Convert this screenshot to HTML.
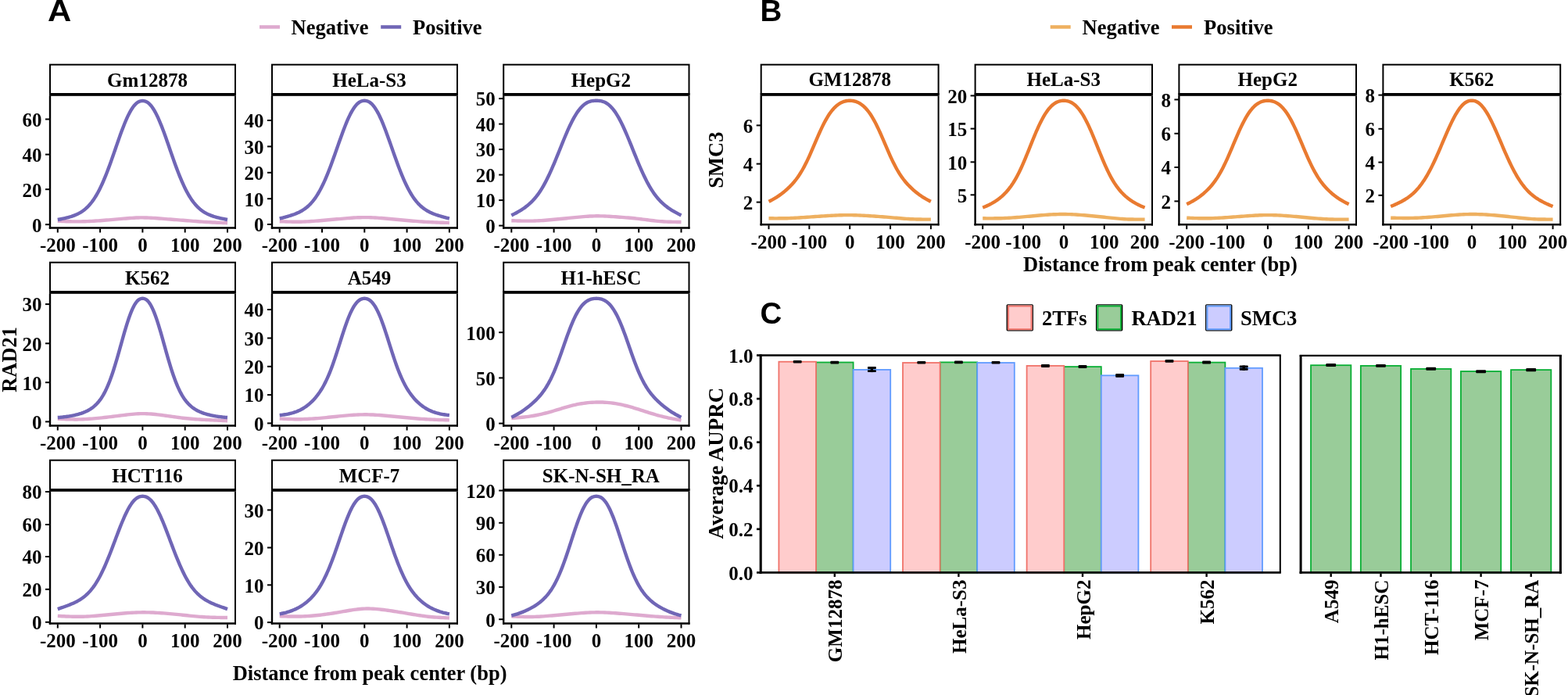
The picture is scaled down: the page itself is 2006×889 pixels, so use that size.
<!DOCTYPE html>
<html><head><meta charset="utf-8"><title>Figure</title>
<style>html,body{margin:0;padding:0;background:#fff;overflow:hidden;width:2006px;height:889px;} svg{display:block;}</style>
</head><body>
<svg width="2006" height="889" viewBox="0 0 2006 889">
<rect width="2006" height="889" fill="#fff"/>
<text x="0.00" y="0.00" font-size="38.5" text-anchor="start" style="font-family:'Liberation Sans',Arial,sans-serif;font-weight:bold" transform="translate(61.0,27.2) scale(1.09,1)">A</text>
<text x="972.50" y="27.20" font-size="38.5" text-anchor="start" style="font-family:'Liberation Sans',Arial,sans-serif;font-weight:bold" >B</text>
<text x="972.50" y="414.40" font-size="38.5" text-anchor="start" style="font-family:'Liberation Sans',Arial,sans-serif;font-weight:bold" >C</text>
<line x1="332.00" y1="34.50" x2="358.00" y2="34.50" stroke="#DEAACF" stroke-width="4.5" stroke-linecap="butt"/>
<line x1="487.20" y1="34.50" x2="513.20" y2="34.50" stroke="#7066B6" stroke-width="4.5" stroke-linecap="butt"/>
<text x="372.50" y="43.80" font-size="26.6" text-anchor="start" style="font-family:'Liberation Serif','Times New Roman',serif;font-weight:bold" >Negative</text>
<text x="528.00" y="43.80" font-size="26.6" text-anchor="start" style="font-family:'Liberation Serif','Times New Roman',serif;font-weight:bold" >Positive</text>
<line x1="1343.70" y1="34.50" x2="1369.70" y2="34.50" stroke="#EEB060" stroke-width="4.5" stroke-linecap="butt"/>
<line x1="1499.00" y1="34.50" x2="1525.00" y2="34.50" stroke="#E97A30" stroke-width="4.5" stroke-linecap="butt"/>
<text x="1384.60" y="43.80" font-size="26.6" text-anchor="start" style="font-family:'Liberation Serif','Times New Roman',serif;font-weight:bold" >Negative</text>
<text x="1540.00" y="43.80" font-size="26.6" text-anchor="start" style="font-family:'Liberation Serif','Times New Roman',serif;font-weight:bold" >Positive</text>
<rect x="64.00" y="82.70" width="237.00" height="38.00" fill="#fff" stroke="#000" stroke-width="2"/>
<rect x="63.00" y="119.00" width="239.00" height="3.80" fill="#000" stroke="none" stroke-width="0"/>
<text x="188.50" y="110.50" font-size="25" text-anchor="middle" style="font-family:'Liberation Serif','Times New Roman',serif;font-weight:bold" >Gm12878</text>
<path d="M73.80,282.80 L76.52,282.90 L79.23,283.00 L81.94,283.09 L84.66,283.18 L87.38,283.25 L90.09,283.31 L92.80,283.36 L95.52,283.40 L98.23,283.41 L100.95,283.40 L103.67,283.37 L106.38,283.31 L109.09,283.24 L111.81,283.14 L114.53,283.02 L117.24,282.89 L119.95,282.74 L122.67,282.57 L125.39,282.39 L128.10,282.20 L130.81,282.00 L133.53,281.78 L136.25,281.56 L138.96,281.33 L141.68,281.10 L144.39,280.86 L147.11,280.62 L149.82,280.38 L152.53,280.14 L155.25,279.90 L157.97,279.67 L160.68,279.44 L163.40,279.22 L166.11,279.03 L168.83,278.85 L171.54,278.69 L174.25,278.57 L176.97,278.47 L179.69,278.42 L182.40,278.40 L185.12,278.43 L187.83,278.49 L190.55,278.60 L193.26,278.73 L195.97,278.89 L198.69,279.07 L201.41,279.26 L204.12,279.47 L206.84,279.68 L209.55,279.90 L212.27,280.11 L214.98,280.33 L217.69,280.54 L220.41,280.74 L223.12,280.95 L225.84,281.16 L228.56,281.37 L231.27,281.58 L233.99,281.79 L236.70,282.00 L239.42,282.21 L242.13,282.43 L244.85,282.64 L247.56,282.86 L250.28,283.06 L252.99,283.27 L255.71,283.46 L258.42,283.65 L261.13,283.83 L263.85,284.00 L266.56,284.16 L269.28,284.30 L272.00,284.43 L274.71,284.56 L277.43,284.68 L280.14,284.79 L282.86,284.90 L285.57,285.00 L288.29,285.10 L291.00,285.20" fill="none" stroke="#DEAACF" stroke-width="4.4"/>
<path d="M73.80,281.02 L75.16,280.76 L76.52,280.49 L77.87,280.22 L79.23,279.94 L80.59,279.65 L81.94,279.35 L83.30,279.04 L84.66,278.72 L86.02,278.38 L87.38,278.03 L88.73,277.66 L90.09,277.26 L91.45,276.84 L92.80,276.39 L94.16,275.91 L95.52,275.40 L96.88,274.84 L98.23,274.25 L99.59,273.60 L100.95,272.91 L102.31,272.16 L103.67,271.35 L105.02,270.47 L106.38,269.52 L107.74,268.49 L109.09,267.39 L110.45,266.19 L111.81,264.91 L113.17,263.53 L114.53,262.04 L115.88,260.45 L117.24,258.75 L118.60,256.93 L119.95,254.99 L121.31,252.93 L122.67,250.75 L124.03,248.44 L125.39,246.00 L126.74,243.43 L128.10,240.73 L129.46,237.91 L130.81,234.96 L132.17,231.89 L133.53,228.69 L134.89,225.39 L136.25,221.98 L137.60,218.47 L138.96,214.87 L140.32,211.18 L141.68,207.43 L143.03,203.61 L144.39,199.75 L145.75,195.85 L147.11,191.93 L148.46,188.01 L149.82,184.10 L151.18,180.21 L152.53,176.36 L153.89,172.57 L155.25,168.85 L156.61,165.22 L157.97,161.69 L159.32,158.29 L160.68,155.02 L162.04,151.89 L163.40,148.94 L164.75,146.15 L166.11,143.56 L167.47,141.16 L168.83,138.97 L170.18,136.98 L171.54,135.22 L172.90,133.68 L174.25,132.36 L175.61,131.27 L176.97,130.40 L178.33,129.75 L179.69,129.31 L181.04,129.07 L182.40,129.00 L183.76,129.07 L185.12,129.31 L186.47,129.75 L187.83,130.40 L189.19,131.27 L190.55,132.36 L191.90,133.68 L193.26,135.22 L194.62,136.98 L195.97,138.97 L197.33,141.16 L198.69,143.56 L200.05,146.15 L201.41,148.94 L202.76,151.89 L204.12,155.02 L205.48,158.29 L206.84,161.69 L208.19,165.22 L209.55,168.85 L210.91,172.57 L212.27,176.36 L213.62,180.21 L214.98,184.10 L216.34,188.01 L217.69,191.93 L219.05,195.85 L220.41,199.75 L221.77,203.61 L223.12,207.43 L224.48,211.18 L225.84,214.87 L227.20,218.47 L228.56,221.98 L229.91,225.39 L231.27,228.69 L232.63,231.89 L233.99,234.96 L235.34,237.91 L236.70,240.73 L238.06,243.43 L239.42,246.00 L240.77,248.44 L242.13,250.75 L243.49,252.93 L244.85,254.99 L246.20,256.93 L247.56,258.75 L248.92,260.45 L250.28,262.04 L251.63,263.53 L252.99,264.91 L254.35,266.19 L255.71,267.39 L257.06,268.49 L258.42,269.52 L259.78,270.47 L261.13,271.35 L262.49,272.16 L263.85,272.91 L265.21,273.60 L266.56,274.25 L267.92,274.84 L269.28,275.40 L270.64,275.91 L272.00,276.39 L273.35,276.84 L274.71,277.26 L276.07,277.66 L277.43,278.03 L278.78,278.38 L280.14,278.72 L281.50,279.04 L282.86,279.35 L284.21,279.65 L285.57,279.94 L286.93,280.22 L288.29,280.49 L289.64,280.76 L291.00,281.02" fill="none" stroke="#7066B6" stroke-width="4.4"/>
<line x1="301.00" y1="122.90" x2="301.00" y2="292.70" stroke="#000" stroke-width="2" stroke-linecap="butt"/>
<line x1="64.00" y1="122.40" x2="64.00" y2="292.70" stroke="#000" stroke-width="2.4" stroke-linecap="butt"/>
<line x1="62.80" y1="291.50" x2="302.00" y2="291.50" stroke="#000" stroke-width="2.4" stroke-linecap="butt"/>
<line x1="73.80" y1="292.50" x2="73.80" y2="297.50" stroke="#000" stroke-width="2" stroke-linecap="butt"/>
<text x="73.80" y="321.50" font-size="25" text-anchor="middle" style="font-family:'Liberation Serif','Times New Roman',serif;font-weight:bold" >-200</text>
<line x1="128.10" y1="292.50" x2="128.10" y2="297.50" stroke="#000" stroke-width="2" stroke-linecap="butt"/>
<text x="128.10" y="321.50" font-size="25" text-anchor="middle" style="font-family:'Liberation Serif','Times New Roman',serif;font-weight:bold" >-100</text>
<line x1="182.40" y1="292.50" x2="182.40" y2="297.50" stroke="#000" stroke-width="2" stroke-linecap="butt"/>
<text x="182.40" y="321.50" font-size="25" text-anchor="middle" style="font-family:'Liberation Serif','Times New Roman',serif;font-weight:bold" >0</text>
<line x1="236.70" y1="292.50" x2="236.70" y2="297.50" stroke="#000" stroke-width="2" stroke-linecap="butt"/>
<text x="236.70" y="321.50" font-size="25" text-anchor="middle" style="font-family:'Liberation Serif','Times New Roman',serif;font-weight:bold" >100</text>
<line x1="291.00" y1="292.50" x2="291.00" y2="297.50" stroke="#000" stroke-width="2" stroke-linecap="butt"/>
<text x="291.00" y="321.50" font-size="25" text-anchor="middle" style="font-family:'Liberation Serif','Times New Roman',serif;font-weight:bold" >200</text>
<line x1="58.00" y1="287.20" x2="64.00" y2="287.20" stroke="#000" stroke-width="2" stroke-linecap="butt"/>
<text x="53.60" y="296.50" font-size="25" text-anchor="end" style="font-family:'Liberation Serif','Times New Roman',serif;font-weight:bold" >0</text>
<line x1="58.00" y1="242.20" x2="64.00" y2="242.20" stroke="#000" stroke-width="2" stroke-linecap="butt"/>
<text x="53.60" y="251.50" font-size="25" text-anchor="end" style="font-family:'Liberation Serif','Times New Roman',serif;font-weight:bold" >20</text>
<line x1="58.00" y1="197.60" x2="64.00" y2="197.60" stroke="#000" stroke-width="2" stroke-linecap="butt"/>
<text x="53.60" y="206.90" font-size="25" text-anchor="end" style="font-family:'Liberation Serif','Times New Roman',serif;font-weight:bold" >40</text>
<line x1="58.00" y1="152.50" x2="64.00" y2="152.50" stroke="#000" stroke-width="2" stroke-linecap="butt"/>
<text x="53.60" y="161.80" font-size="25" text-anchor="end" style="font-family:'Liberation Serif','Times New Roman',serif;font-weight:bold" >60</text>
<rect x="348.00" y="82.70" width="237.00" height="38.00" fill="#fff" stroke="#000" stroke-width="2"/>
<rect x="347.00" y="119.00" width="239.00" height="3.80" fill="#000" stroke="none" stroke-width="0"/>
<text x="472.50" y="110.50" font-size="25" text-anchor="middle" style="font-family:'Liberation Serif','Times New Roman',serif;font-weight:bold" >HeLa-S3</text>
<path d="M357.70,283.20 L360.42,283.30 L363.13,283.40 L365.85,283.50 L368.56,283.58 L371.27,283.65 L373.99,283.71 L376.70,283.74 L379.42,283.75 L382.13,283.74 L384.85,283.70 L387.56,283.63 L390.28,283.53 L393.00,283.40 L395.71,283.25 L398.43,283.07 L401.14,282.88 L403.86,282.68 L406.57,282.46 L409.29,282.23 L412.00,282.00 L414.72,281.76 L417.43,281.52 L420.14,281.28 L422.86,281.04 L425.57,280.80 L428.29,280.55 L431.00,280.31 L433.72,280.07 L436.44,279.83 L439.15,279.60 L441.87,279.37 L444.58,279.15 L447.30,278.94 L450.01,278.75 L452.73,278.57 L455.44,278.42 L458.16,278.29 L460.87,278.19 L463.59,278.13 L466.30,278.10 L469.01,278.11 L471.73,278.16 L474.44,278.24 L477.16,278.36 L479.88,278.50 L482.59,278.66 L485.31,278.85 L488.02,279.05 L490.74,279.27 L493.45,279.50 L496.17,279.74 L498.88,279.98 L501.60,280.23 L504.31,280.48 L507.03,280.74 L509.74,280.99 L512.46,281.25 L515.17,281.50 L517.88,281.75 L520.60,282.00 L523.32,282.24 L526.03,282.47 L528.75,282.70 L531.46,282.91 L534.17,283.12 L536.89,283.32 L539.61,283.51 L542.32,283.68 L545.03,283.85 L547.75,284.00 L550.47,284.14 L553.18,284.26 L555.89,284.38 L558.61,284.49 L561.33,284.58 L564.04,284.68 L566.75,284.76 L569.47,284.84 L572.19,284.92 L574.90,285.00" fill="none" stroke="#DEAACF" stroke-width="4.4"/>
<path d="M357.70,279.59 L359.06,279.24 L360.42,278.88 L361.77,278.53 L363.13,278.17 L364.49,277.80 L365.85,277.43 L367.20,277.05 L368.56,276.66 L369.92,276.26 L371.27,275.84 L372.63,275.41 L373.99,274.96 L375.35,274.48 L376.70,273.99 L378.06,273.46 L379.42,272.90 L380.78,272.31 L382.13,271.69 L383.49,271.01 L384.85,270.29 L386.21,269.52 L387.56,268.69 L388.92,267.80 L390.28,266.85 L391.64,265.82 L393.00,264.71 L394.35,263.52 L395.71,262.24 L397.07,260.87 L398.43,259.40 L399.78,257.82 L401.14,256.14 L402.50,254.34 L403.86,252.43 L405.21,250.39 L406.57,248.23 L407.93,245.94 L409.29,243.53 L410.64,240.99 L412.00,238.32 L413.36,235.53 L414.72,232.60 L416.07,229.56 L417.43,226.40 L418.79,223.13 L420.14,219.75 L421.50,216.27 L422.86,212.70 L424.22,209.05 L425.57,205.33 L426.93,201.55 L428.29,197.73 L429.65,193.88 L431.00,190.00 L432.36,186.13 L433.72,182.26 L435.08,178.43 L436.44,174.64 L437.79,170.91 L439.15,167.25 L440.51,163.69 L441.87,160.24 L443.22,156.91 L444.58,153.72 L445.94,150.69 L447.30,147.82 L448.65,145.12 L450.01,142.61 L451.37,140.30 L452.73,138.20 L454.08,136.30 L455.44,134.62 L456.80,133.16 L458.16,131.92 L459.51,130.89 L460.87,130.09 L462.23,129.48 L463.59,129.08 L464.94,128.86 L466.30,128.80 L467.66,128.86 L469.01,129.08 L470.37,129.48 L471.73,130.09 L473.09,130.89 L474.44,131.92 L475.80,133.16 L477.16,134.62 L478.52,136.30 L479.88,138.20 L481.23,140.30 L482.59,142.61 L483.95,145.12 L485.31,147.82 L486.66,150.69 L488.02,153.72 L489.38,156.91 L490.74,160.24 L492.09,163.69 L493.45,167.25 L494.81,170.91 L496.17,174.64 L497.52,178.43 L498.88,182.26 L500.24,186.13 L501.60,190.00 L502.95,193.88 L504.31,197.73 L505.67,201.55 L507.03,205.33 L508.38,209.05 L509.74,212.70 L511.10,216.27 L512.46,219.75 L513.81,223.13 L515.17,226.40 L516.53,229.56 L517.88,232.60 L519.24,235.53 L520.60,238.32 L521.96,240.99 L523.32,243.53 L524.67,245.94 L526.03,248.23 L527.39,250.39 L528.75,252.43 L530.10,254.34 L531.46,256.14 L532.82,257.82 L534.17,259.40 L535.53,260.87 L536.89,262.24 L538.25,263.52 L539.61,264.71 L540.96,265.82 L542.32,266.85 L543.68,267.80 L545.03,268.69 L546.39,269.52 L547.75,270.29 L549.11,271.01 L550.47,271.69 L551.82,272.31 L553.18,272.90 L554.54,273.46 L555.89,273.99 L557.25,274.48 L558.61,274.96 L559.97,275.41 L561.33,275.84 L562.68,276.26 L564.04,276.66 L565.40,277.05 L566.75,277.43 L568.11,277.80 L569.47,278.17 L570.83,278.53 L572.19,278.88 L573.54,279.24 L574.90,279.59" fill="none" stroke="#7066B6" stroke-width="4.4"/>
<line x1="585.00" y1="122.90" x2="585.00" y2="292.70" stroke="#000" stroke-width="2" stroke-linecap="butt"/>
<line x1="348.00" y1="122.40" x2="348.00" y2="292.70" stroke="#000" stroke-width="2.4" stroke-linecap="butt"/>
<line x1="346.80" y1="291.50" x2="586.00" y2="291.50" stroke="#000" stroke-width="2.4" stroke-linecap="butt"/>
<line x1="357.70" y1="292.50" x2="357.70" y2="297.50" stroke="#000" stroke-width="2" stroke-linecap="butt"/>
<text x="357.70" y="321.50" font-size="25" text-anchor="middle" style="font-family:'Liberation Serif','Times New Roman',serif;font-weight:bold" >-200</text>
<line x1="412.00" y1="292.50" x2="412.00" y2="297.50" stroke="#000" stroke-width="2" stroke-linecap="butt"/>
<text x="412.00" y="321.50" font-size="25" text-anchor="middle" style="font-family:'Liberation Serif','Times New Roman',serif;font-weight:bold" >-100</text>
<line x1="466.30" y1="292.50" x2="466.30" y2="297.50" stroke="#000" stroke-width="2" stroke-linecap="butt"/>
<text x="466.30" y="321.50" font-size="25" text-anchor="middle" style="font-family:'Liberation Serif','Times New Roman',serif;font-weight:bold" >0</text>
<line x1="520.60" y1="292.50" x2="520.60" y2="297.50" stroke="#000" stroke-width="2" stroke-linecap="butt"/>
<text x="520.60" y="321.50" font-size="25" text-anchor="middle" style="font-family:'Liberation Serif','Times New Roman',serif;font-weight:bold" >100</text>
<line x1="574.90" y1="292.50" x2="574.90" y2="297.50" stroke="#000" stroke-width="2" stroke-linecap="butt"/>
<text x="574.90" y="321.50" font-size="25" text-anchor="middle" style="font-family:'Liberation Serif','Times New Roman',serif;font-weight:bold" >200</text>
<line x1="342.00" y1="287.00" x2="348.00" y2="287.00" stroke="#000" stroke-width="2" stroke-linecap="butt"/>
<text x="337.60" y="296.30" font-size="25" text-anchor="end" style="font-family:'Liberation Serif','Times New Roman',serif;font-weight:bold" >0</text>
<line x1="342.00" y1="254.20" x2="348.00" y2="254.20" stroke="#000" stroke-width="2" stroke-linecap="butt"/>
<text x="337.60" y="263.50" font-size="25" text-anchor="end" style="font-family:'Liberation Serif','Times New Roman',serif;font-weight:bold" >10</text>
<line x1="342.00" y1="220.80" x2="348.00" y2="220.80" stroke="#000" stroke-width="2" stroke-linecap="butt"/>
<text x="337.60" y="230.10" font-size="25" text-anchor="end" style="font-family:'Liberation Serif','Times New Roman',serif;font-weight:bold" >20</text>
<line x1="342.00" y1="187.40" x2="348.00" y2="187.40" stroke="#000" stroke-width="2" stroke-linecap="butt"/>
<text x="337.60" y="196.70" font-size="25" text-anchor="end" style="font-family:'Liberation Serif','Times New Roman',serif;font-weight:bold" >30</text>
<line x1="342.00" y1="154.00" x2="348.00" y2="154.00" stroke="#000" stroke-width="2" stroke-linecap="butt"/>
<text x="337.60" y="163.30" font-size="25" text-anchor="end" style="font-family:'Liberation Serif','Times New Roman',serif;font-weight:bold" >40</text>
<rect x="644.20" y="82.70" width="237.30" height="38.00" fill="#fff" stroke="#000" stroke-width="2"/>
<rect x="643.20" y="119.00" width="239.30" height="3.80" fill="#000" stroke="none" stroke-width="0"/>
<text x="768.85" y="110.50" font-size="25" text-anchor="middle" style="font-family:'Liberation Serif','Times New Roman',serif;font-weight:bold" >HepG2</text>
<path d="M654.30,282.20 L657.01,282.29 L659.73,282.38 L662.44,282.46 L665.16,282.54 L667.88,282.60 L670.59,282.64 L673.30,282.67 L676.02,282.67 L678.74,282.65 L681.45,282.60 L684.16,282.52 L686.88,282.41 L689.60,282.28 L692.31,282.12 L695.02,281.94 L697.74,281.74 L700.45,281.52 L703.17,281.29 L705.88,281.05 L708.60,280.80 L711.31,280.54 L714.03,280.28 L716.75,280.01 L719.46,279.74 L722.17,279.47 L724.89,279.19 L727.61,278.92 L730.32,278.64 L733.03,278.37 L735.75,278.10 L738.46,277.84 L741.18,277.58 L743.89,277.34 L746.61,277.11 L749.32,276.90 L752.04,276.72 L754.75,276.56 L757.47,276.44 L760.18,276.35 L762.90,276.30 L765.62,276.29 L768.33,276.33 L771.04,276.39 L773.76,276.49 L776.48,276.62 L779.19,276.77 L781.90,276.93 L784.62,277.11 L787.34,277.30 L790.05,277.50 L792.76,277.70 L795.48,277.90 L798.19,278.11 L800.91,278.33 L803.62,278.55 L806.34,278.79 L809.05,279.04 L811.77,279.31 L814.49,279.60 L817.20,279.90 L819.91,280.22 L822.63,280.56 L825.35,280.91 L828.06,281.27 L830.77,281.61 L833.49,281.95 L836.20,282.28 L838.92,282.58 L841.63,282.86 L844.35,283.10 L847.06,283.30 L849.78,283.47 L852.50,283.61 L855.21,283.72 L857.92,283.80 L860.64,283.86 L863.36,283.91 L866.07,283.95 L868.78,283.98 L871.50,284.00" fill="none" stroke="#DEAACF" stroke-width="4.4"/>
<path d="M654.30,275.47 L655.66,274.79 L657.01,274.11 L658.37,273.40 L659.73,272.69 L661.09,271.95 L662.44,271.20 L663.80,270.42 L665.16,269.61 L666.52,268.78 L667.88,267.92 L669.23,267.02 L670.59,266.09 L671.95,265.11 L673.30,264.09 L674.66,263.02 L676.02,261.89 L677.38,260.71 L678.74,259.46 L680.09,258.14 L681.45,256.76 L682.81,255.29 L684.16,253.75 L685.52,252.12 L686.88,250.40 L688.24,248.59 L689.60,246.68 L690.95,244.68 L692.31,242.57 L693.67,240.37 L695.02,238.06 L696.38,235.65 L697.74,233.15 L699.10,230.54 L700.45,227.83 L701.81,225.03 L703.17,222.14 L704.53,219.17 L705.88,216.11 L707.24,212.99 L708.60,209.80 L709.96,206.55 L711.31,203.26 L712.67,199.93 L714.03,196.58 L715.39,193.20 L716.75,189.83 L718.10,186.45 L719.46,183.10 L720.82,179.77 L722.17,176.49 L723.53,173.25 L724.89,170.08 L726.25,166.98 L727.61,163.96 L728.96,161.04 L730.32,158.21 L731.68,155.50 L733.03,152.90 L734.39,150.43 L735.75,148.09 L737.11,145.88 L738.46,143.81 L739.82,141.88 L741.18,140.09 L742.54,138.45 L743.89,136.95 L745.25,135.60 L746.61,134.38 L747.97,133.30 L749.32,132.36 L750.68,131.54 L752.04,130.85 L753.40,130.27 L754.75,129.81 L756.11,129.44 L757.47,129.17 L758.83,128.99 L760.18,128.87 L761.54,128.81 L762.90,128.80 L764.26,128.81 L765.62,128.87 L766.97,128.99 L768.33,129.17 L769.69,129.44 L771.04,129.81 L772.40,130.27 L773.76,130.85 L775.12,131.54 L776.48,132.36 L777.83,133.30 L779.19,134.38 L780.55,135.60 L781.90,136.95 L783.26,138.45 L784.62,140.09 L785.98,141.88 L787.34,143.81 L788.69,145.88 L790.05,148.09 L791.41,150.43 L792.76,152.90 L794.12,155.50 L795.48,158.21 L796.84,161.04 L798.19,163.96 L799.55,166.98 L800.91,170.08 L802.27,173.25 L803.62,176.49 L804.98,179.77 L806.34,183.10 L807.70,186.45 L809.05,189.83 L810.41,193.20 L811.77,196.58 L813.13,199.93 L814.49,203.26 L815.84,206.55 L817.20,209.80 L818.56,212.99 L819.91,216.11 L821.27,219.17 L822.63,222.14 L823.99,225.03 L825.35,227.83 L826.70,230.54 L828.06,233.15 L829.42,235.65 L830.77,238.06 L832.13,240.37 L833.49,242.57 L834.85,244.68 L836.20,246.68 L837.56,248.59 L838.92,250.40 L840.28,252.12 L841.63,253.75 L842.99,255.29 L844.35,256.76 L845.71,258.14 L847.06,259.46 L848.42,260.71 L849.78,261.89 L851.14,263.02 L852.50,264.09 L853.85,265.11 L855.21,266.09 L856.57,267.02 L857.92,267.92 L859.28,268.78 L860.64,269.61 L862.00,270.42 L863.36,271.20 L864.71,271.95 L866.07,272.69 L867.43,273.40 L868.78,274.11 L870.14,274.79 L871.50,275.47" fill="none" stroke="#7066B6" stroke-width="4.4"/>
<line x1="881.50" y1="122.90" x2="881.50" y2="292.70" stroke="#000" stroke-width="2" stroke-linecap="butt"/>
<line x1="644.20" y1="122.40" x2="644.20" y2="292.70" stroke="#000" stroke-width="2.4" stroke-linecap="butt"/>
<line x1="643.00" y1="291.50" x2="882.50" y2="291.50" stroke="#000" stroke-width="2.4" stroke-linecap="butt"/>
<line x1="654.30" y1="292.50" x2="654.30" y2="297.50" stroke="#000" stroke-width="2" stroke-linecap="butt"/>
<text x="654.30" y="321.50" font-size="25" text-anchor="middle" style="font-family:'Liberation Serif','Times New Roman',serif;font-weight:bold" >-200</text>
<line x1="708.60" y1="292.50" x2="708.60" y2="297.50" stroke="#000" stroke-width="2" stroke-linecap="butt"/>
<text x="708.60" y="321.50" font-size="25" text-anchor="middle" style="font-family:'Liberation Serif','Times New Roman',serif;font-weight:bold" >-100</text>
<line x1="762.90" y1="292.50" x2="762.90" y2="297.50" stroke="#000" stroke-width="2" stroke-linecap="butt"/>
<text x="762.90" y="321.50" font-size="25" text-anchor="middle" style="font-family:'Liberation Serif','Times New Roman',serif;font-weight:bold" >0</text>
<line x1="817.20" y1="292.50" x2="817.20" y2="297.50" stroke="#000" stroke-width="2" stroke-linecap="butt"/>
<text x="817.20" y="321.50" font-size="25" text-anchor="middle" style="font-family:'Liberation Serif','Times New Roman',serif;font-weight:bold" >100</text>
<line x1="871.50" y1="292.50" x2="871.50" y2="297.50" stroke="#000" stroke-width="2" stroke-linecap="butt"/>
<text x="871.50" y="321.50" font-size="25" text-anchor="middle" style="font-family:'Liberation Serif','Times New Roman',serif;font-weight:bold" >200</text>
<line x1="638.20" y1="288.60" x2="644.20" y2="288.60" stroke="#000" stroke-width="2" stroke-linecap="butt"/>
<text x="633.80" y="297.90" font-size="25" text-anchor="end" style="font-family:'Liberation Serif','Times New Roman',serif;font-weight:bold" >0</text>
<line x1="638.20" y1="256.10" x2="644.20" y2="256.10" stroke="#000" stroke-width="2" stroke-linecap="butt"/>
<text x="633.80" y="265.40" font-size="25" text-anchor="end" style="font-family:'Liberation Serif','Times New Roman',serif;font-weight:bold" >10</text>
<line x1="638.20" y1="223.60" x2="644.20" y2="223.60" stroke="#000" stroke-width="2" stroke-linecap="butt"/>
<text x="633.80" y="232.90" font-size="25" text-anchor="end" style="font-family:'Liberation Serif','Times New Roman',serif;font-weight:bold" >20</text>
<line x1="638.20" y1="191.10" x2="644.20" y2="191.10" stroke="#000" stroke-width="2" stroke-linecap="butt"/>
<text x="633.80" y="200.40" font-size="25" text-anchor="end" style="font-family:'Liberation Serif','Times New Roman',serif;font-weight:bold" >30</text>
<line x1="638.20" y1="158.60" x2="644.20" y2="158.60" stroke="#000" stroke-width="2" stroke-linecap="butt"/>
<text x="633.80" y="167.90" font-size="25" text-anchor="end" style="font-family:'Liberation Serif','Times New Roman',serif;font-weight:bold" >40</text>
<line x1="638.20" y1="126.10" x2="644.20" y2="126.10" stroke="#000" stroke-width="2" stroke-linecap="butt"/>
<text x="633.80" y="135.40" font-size="25" text-anchor="end" style="font-family:'Liberation Serif','Times New Roman',serif;font-weight:bold" >50</text>
<rect x="64.00" y="335.70" width="237.00" height="38.00" fill="#fff" stroke="#000" stroke-width="2"/>
<rect x="63.00" y="372.00" width="239.00" height="3.80" fill="#000" stroke="none" stroke-width="0"/>
<text x="188.50" y="363.50" font-size="25" text-anchor="middle" style="font-family:'Liberation Serif','Times New Roman',serif;font-weight:bold" >K562</text>
<path d="M73.80,535.80 L76.52,535.91 L79.23,536.02 L81.94,536.13 L84.66,536.22 L87.38,536.30 L90.09,536.37 L92.80,536.42 L95.52,536.44 L98.23,536.43 L100.95,536.40 L103.67,536.33 L106.38,536.24 L109.09,536.11 L111.81,535.96 L114.53,535.79 L117.24,535.59 L119.95,535.37 L122.67,535.13 L125.39,534.87 L128.10,534.60 L130.81,534.32 L133.53,534.02 L136.25,533.72 L138.96,533.40 L141.68,533.08 L144.39,532.75 L147.11,532.42 L149.82,532.08 L152.53,531.74 L155.25,531.40 L157.97,531.06 L160.68,530.73 L163.40,530.41 L166.11,530.11 L168.83,529.83 L171.54,529.59 L174.25,529.39 L176.97,529.24 L179.69,529.14 L182.40,529.10 L185.12,529.12 L187.83,529.21 L190.55,529.35 L193.26,529.54 L195.97,529.78 L198.69,530.05 L201.41,530.35 L204.12,530.68 L206.84,531.03 L209.55,531.40 L212.27,531.78 L214.98,532.16 L217.69,532.54 L220.41,532.92 L223.12,533.30 L225.84,533.67 L228.56,534.03 L231.27,534.37 L233.99,534.70 L236.70,535.00 L239.42,535.28 L242.13,535.54 L244.85,535.77 L247.56,535.99 L250.28,536.19 L252.99,536.38 L255.71,536.55 L258.42,536.71 L261.13,536.86 L263.85,537.00 L266.56,537.14 L269.28,537.27 L272.00,537.39 L274.71,537.52 L277.43,537.64 L280.14,537.75 L282.86,537.87 L285.57,537.98 L288.29,538.09 L291.00,538.20" fill="none" stroke="#DEAACF" stroke-width="4.4"/>
<path d="M73.80,534.06 L75.16,533.96 L76.52,533.85 L77.87,533.73 L79.23,533.59 L80.59,533.45 L81.94,533.30 L83.30,533.14 L84.66,532.96 L86.02,532.78 L87.38,532.57 L88.73,532.36 L90.09,532.13 L91.45,531.88 L92.80,531.62 L94.16,531.34 L95.52,531.05 L96.88,530.73 L98.23,530.39 L99.59,530.03 L100.95,529.64 L102.31,529.23 L103.67,528.80 L105.02,528.33 L106.38,527.83 L107.74,527.29 L109.09,526.72 L110.45,526.10 L111.81,525.43 L113.17,524.72 L114.53,523.94 L115.88,523.10 L117.24,522.20 L118.60,521.21 L119.95,520.14 L121.31,518.97 L122.67,517.70 L124.03,516.32 L125.39,514.82 L126.74,513.18 L128.10,511.40 L129.46,509.47 L130.81,507.37 L132.17,505.10 L133.53,502.65 L134.89,500.01 L136.25,497.17 L137.60,494.14 L138.96,490.90 L140.32,487.47 L141.68,483.83 L143.03,480.00 L144.39,475.98 L145.75,471.79 L147.11,467.44 L148.46,462.94 L149.82,458.32 L151.18,453.59 L152.53,448.79 L153.89,443.94 L155.25,439.07 L156.61,434.22 L157.97,429.42 L159.32,424.69 L160.68,420.08 L162.04,415.62 L163.40,411.33 L164.75,407.26 L166.11,403.43 L167.47,399.86 L168.83,396.59 L170.18,393.62 L171.54,390.98 L172.90,388.67 L174.25,386.71 L175.61,385.09 L176.97,383.81 L178.33,382.86 L179.69,382.23 L181.04,381.89 L182.40,381.80 L183.76,381.89 L185.12,382.23 L186.47,382.86 L187.83,383.81 L189.19,385.09 L190.55,386.71 L191.90,388.67 L193.26,390.98 L194.62,393.62 L195.97,396.59 L197.33,399.86 L198.69,403.43 L200.05,407.26 L201.41,411.33 L202.76,415.62 L204.12,420.08 L205.48,424.69 L206.84,429.42 L208.19,434.22 L209.55,439.07 L210.91,443.94 L212.27,448.79 L213.62,453.59 L214.98,458.32 L216.34,462.94 L217.69,467.44 L219.05,471.79 L220.41,475.98 L221.77,480.00 L223.12,483.83 L224.48,487.47 L225.84,490.90 L227.20,494.14 L228.56,497.17 L229.91,500.01 L231.27,502.65 L232.63,505.10 L233.99,507.37 L235.34,509.47 L236.70,511.40 L238.06,513.18 L239.42,514.82 L240.77,516.32 L242.13,517.70 L243.49,518.97 L244.85,520.14 L246.20,521.21 L247.56,522.20 L248.92,523.10 L250.28,523.94 L251.63,524.72 L252.99,525.43 L254.35,526.10 L255.71,526.72 L257.06,527.29 L258.42,527.83 L259.78,528.33 L261.13,528.80 L262.49,529.23 L263.85,529.64 L265.21,530.03 L266.56,530.39 L267.92,530.73 L269.28,531.05 L270.64,531.34 L272.00,531.62 L273.35,531.88 L274.71,532.13 L276.07,532.36 L277.43,532.57 L278.78,532.78 L280.14,532.96 L281.50,533.14 L282.86,533.30 L284.21,533.45 L285.57,533.59 L286.93,533.73 L288.29,533.85 L289.64,533.96 L291.00,534.06" fill="none" stroke="#7066B6" stroke-width="4.4"/>
<line x1="301.00" y1="375.90" x2="301.00" y2="545.70" stroke="#000" stroke-width="2" stroke-linecap="butt"/>
<line x1="64.00" y1="375.40" x2="64.00" y2="545.70" stroke="#000" stroke-width="2.4" stroke-linecap="butt"/>
<line x1="62.80" y1="544.50" x2="302.00" y2="544.50" stroke="#000" stroke-width="2.4" stroke-linecap="butt"/>
<line x1="73.80" y1="545.50" x2="73.80" y2="550.50" stroke="#000" stroke-width="2" stroke-linecap="butt"/>
<text x="73.80" y="574.50" font-size="25" text-anchor="middle" style="font-family:'Liberation Serif','Times New Roman',serif;font-weight:bold" >-200</text>
<line x1="128.10" y1="545.50" x2="128.10" y2="550.50" stroke="#000" stroke-width="2" stroke-linecap="butt"/>
<text x="128.10" y="574.50" font-size="25" text-anchor="middle" style="font-family:'Liberation Serif','Times New Roman',serif;font-weight:bold" >-100</text>
<line x1="182.40" y1="545.50" x2="182.40" y2="550.50" stroke="#000" stroke-width="2" stroke-linecap="butt"/>
<text x="182.40" y="574.50" font-size="25" text-anchor="middle" style="font-family:'Liberation Serif','Times New Roman',serif;font-weight:bold" >0</text>
<line x1="236.70" y1="545.50" x2="236.70" y2="550.50" stroke="#000" stroke-width="2" stroke-linecap="butt"/>
<text x="236.70" y="574.50" font-size="25" text-anchor="middle" style="font-family:'Liberation Serif','Times New Roman',serif;font-weight:bold" >100</text>
<line x1="291.00" y1="545.50" x2="291.00" y2="550.50" stroke="#000" stroke-width="2" stroke-linecap="butt"/>
<text x="291.00" y="574.50" font-size="25" text-anchor="middle" style="font-family:'Liberation Serif','Times New Roman',serif;font-weight:bold" >200</text>
<line x1="58.00" y1="539.40" x2="64.00" y2="539.40" stroke="#000" stroke-width="2" stroke-linecap="butt"/>
<text x="53.60" y="548.70" font-size="25" text-anchor="end" style="font-family:'Liberation Serif','Times New Roman',serif;font-weight:bold" >0</text>
<line x1="58.00" y1="489.20" x2="64.00" y2="489.20" stroke="#000" stroke-width="2" stroke-linecap="butt"/>
<text x="53.60" y="498.50" font-size="25" text-anchor="end" style="font-family:'Liberation Serif','Times New Roman',serif;font-weight:bold" >10</text>
<line x1="58.00" y1="439.30" x2="64.00" y2="439.30" stroke="#000" stroke-width="2" stroke-linecap="butt"/>
<text x="53.60" y="448.60" font-size="25" text-anchor="end" style="font-family:'Liberation Serif','Times New Roman',serif;font-weight:bold" >20</text>
<line x1="58.00" y1="389.10" x2="64.00" y2="389.10" stroke="#000" stroke-width="2" stroke-linecap="butt"/>
<text x="53.60" y="398.40" font-size="25" text-anchor="end" style="font-family:'Liberation Serif','Times New Roman',serif;font-weight:bold" >30</text>
<rect x="348.00" y="335.70" width="237.00" height="38.00" fill="#fff" stroke="#000" stroke-width="2"/>
<rect x="347.00" y="372.00" width="239.00" height="3.80" fill="#000" stroke="none" stroke-width="0"/>
<text x="472.50" y="363.50" font-size="25" text-anchor="middle" style="font-family:'Liberation Serif','Times New Roman',serif;font-weight:bold" >A549</text>
<path d="M357.70,535.50 L360.42,535.62 L363.13,535.74 L365.85,535.85 L368.56,535.96 L371.27,536.05 L373.99,536.12 L376.70,536.18 L379.42,536.21 L382.13,536.22 L384.85,536.20 L387.56,536.15 L390.28,536.07 L393.00,535.96 L395.71,535.82 L398.43,535.67 L401.14,535.49 L403.86,535.29 L406.57,535.07 L409.29,534.84 L412.00,534.60 L414.72,534.35 L417.43,534.08 L420.14,533.81 L422.86,533.54 L425.57,533.26 L428.29,532.98 L431.00,532.71 L433.72,532.43 L436.44,532.16 L439.15,531.90 L441.87,531.65 L444.58,531.41 L447.30,531.18 L450.01,530.98 L452.73,530.79 L455.44,530.63 L458.16,530.50 L460.87,530.40 L463.59,530.33 L466.30,530.30 L469.01,530.31 L471.73,530.36 L474.44,530.44 L477.16,530.55 L479.88,530.69 L482.59,530.85 L485.31,531.04 L488.02,531.25 L490.74,531.47 L493.45,531.70 L496.17,531.94 L498.88,532.19 L501.60,532.45 L504.31,532.71 L507.03,532.98 L509.74,533.25 L512.46,533.51 L515.17,533.78 L517.88,534.04 L520.60,534.30 L523.32,534.55 L526.03,534.80 L528.75,535.03 L531.46,535.26 L534.17,535.48 L536.89,535.69 L539.61,535.89 L542.32,536.07 L545.03,536.24 L547.75,536.40 L550.47,536.54 L553.18,536.67 L555.89,536.79 L558.61,536.90 L561.33,536.99 L564.04,537.08 L566.75,537.17 L569.47,537.25 L572.19,537.32 L574.90,537.40" fill="none" stroke="#DEAACF" stroke-width="4.4"/>
<path d="M357.70,531.11 L359.06,530.98 L360.42,530.83 L361.77,530.66 L363.13,530.48 L364.49,530.28 L365.85,530.06 L367.20,529.82 L368.56,529.56 L369.92,529.27 L371.27,528.96 L372.63,528.62 L373.99,528.25 L375.35,527.85 L376.70,527.41 L378.06,526.95 L379.42,526.44 L380.78,525.89 L382.13,525.30 L383.49,524.67 L384.85,523.99 L386.21,523.27 L387.56,522.49 L388.92,521.66 L390.28,520.78 L391.64,519.84 L393.00,518.84 L394.35,517.78 L395.71,516.66 L397.07,515.47 L398.43,514.21 L399.78,512.87 L401.14,511.46 L402.50,509.97 L403.86,508.39 L405.21,506.73 L406.57,504.96 L407.93,503.10 L409.29,501.13 L410.64,499.04 L412.00,496.83 L413.36,494.48 L414.72,492.00 L416.07,489.38 L417.43,486.61 L418.79,483.68 L420.14,480.59 L421.50,477.35 L422.86,473.94 L424.22,470.39 L425.57,466.68 L426.93,462.84 L428.29,458.87 L429.65,454.79 L431.00,450.62 L432.36,446.39 L433.72,442.11 L435.08,437.81 L436.44,433.52 L437.79,429.27 L439.15,425.08 L440.51,420.98 L441.87,417.00 L443.22,413.17 L444.58,409.50 L445.94,406.02 L447.30,402.75 L448.65,399.69 L450.01,396.88 L451.37,394.30 L452.73,391.97 L454.08,389.90 L455.44,388.07 L456.80,386.50 L458.16,385.17 L459.51,384.08 L460.87,383.22 L462.23,382.57 L463.59,382.13 L464.94,381.88 L466.30,381.80 L467.66,381.88 L469.01,382.13 L470.37,382.57 L471.73,383.22 L473.09,384.08 L474.44,385.17 L475.80,386.50 L477.16,388.07 L478.52,389.90 L479.88,391.97 L481.23,394.30 L482.59,396.88 L483.95,399.69 L485.31,402.75 L486.66,406.02 L488.02,409.50 L489.38,413.17 L490.74,417.00 L492.09,420.98 L493.45,425.08 L494.81,429.27 L496.17,433.52 L497.52,437.81 L498.88,442.11 L500.24,446.39 L501.60,450.62 L502.95,454.79 L504.31,458.87 L505.67,462.84 L507.03,466.68 L508.38,470.39 L509.74,473.94 L511.10,477.35 L512.46,480.59 L513.81,483.68 L515.17,486.61 L516.53,489.38 L517.88,492.00 L519.24,494.48 L520.60,496.83 L521.96,499.04 L523.32,501.13 L524.67,503.10 L526.03,504.96 L527.39,506.73 L528.75,508.39 L530.10,509.97 L531.46,511.46 L532.82,512.87 L534.17,514.21 L535.53,515.47 L536.89,516.66 L538.25,517.78 L539.61,518.84 L540.96,519.84 L542.32,520.78 L543.68,521.66 L545.03,522.49 L546.39,523.27 L547.75,523.99 L549.11,524.67 L550.47,525.30 L551.82,525.89 L553.18,526.44 L554.54,526.95 L555.89,527.41 L557.25,527.85 L558.61,528.25 L559.97,528.62 L561.33,528.96 L562.68,529.27 L564.04,529.56 L565.40,529.82 L566.75,530.06 L568.11,530.28 L569.47,530.48 L570.83,530.66 L572.19,530.83 L573.54,530.98 L574.90,531.11" fill="none" stroke="#7066B6" stroke-width="4.4"/>
<line x1="585.00" y1="375.90" x2="585.00" y2="545.70" stroke="#000" stroke-width="2" stroke-linecap="butt"/>
<line x1="348.00" y1="375.40" x2="348.00" y2="545.70" stroke="#000" stroke-width="2.4" stroke-linecap="butt"/>
<line x1="346.80" y1="544.50" x2="586.00" y2="544.50" stroke="#000" stroke-width="2.4" stroke-linecap="butt"/>
<line x1="357.70" y1="545.50" x2="357.70" y2="550.50" stroke="#000" stroke-width="2" stroke-linecap="butt"/>
<text x="357.70" y="574.50" font-size="25" text-anchor="middle" style="font-family:'Liberation Serif','Times New Roman',serif;font-weight:bold" >-200</text>
<line x1="412.00" y1="545.50" x2="412.00" y2="550.50" stroke="#000" stroke-width="2" stroke-linecap="butt"/>
<text x="412.00" y="574.50" font-size="25" text-anchor="middle" style="font-family:'Liberation Serif','Times New Roman',serif;font-weight:bold" >-100</text>
<line x1="466.30" y1="545.50" x2="466.30" y2="550.50" stroke="#000" stroke-width="2" stroke-linecap="butt"/>
<text x="466.30" y="574.50" font-size="25" text-anchor="middle" style="font-family:'Liberation Serif','Times New Roman',serif;font-weight:bold" >0</text>
<line x1="520.60" y1="545.50" x2="520.60" y2="550.50" stroke="#000" stroke-width="2" stroke-linecap="butt"/>
<text x="520.60" y="574.50" font-size="25" text-anchor="middle" style="font-family:'Liberation Serif','Times New Roman',serif;font-weight:bold" >100</text>
<line x1="574.90" y1="545.50" x2="574.90" y2="550.50" stroke="#000" stroke-width="2" stroke-linecap="butt"/>
<text x="574.90" y="574.50" font-size="25" text-anchor="middle" style="font-family:'Liberation Serif','Times New Roman',serif;font-weight:bold" >200</text>
<line x1="342.00" y1="541.40" x2="348.00" y2="541.40" stroke="#000" stroke-width="2" stroke-linecap="butt"/>
<text x="337.60" y="550.70" font-size="25" text-anchor="end" style="font-family:'Liberation Serif','Times New Roman',serif;font-weight:bold" >0</text>
<line x1="342.00" y1="505.10" x2="348.00" y2="505.10" stroke="#000" stroke-width="2" stroke-linecap="butt"/>
<text x="337.60" y="514.40" font-size="25" text-anchor="end" style="font-family:'Liberation Serif','Times New Roman',serif;font-weight:bold" >10</text>
<line x1="342.00" y1="468.80" x2="348.00" y2="468.80" stroke="#000" stroke-width="2" stroke-linecap="butt"/>
<text x="337.60" y="478.10" font-size="25" text-anchor="end" style="font-family:'Liberation Serif','Times New Roman',serif;font-weight:bold" >20</text>
<line x1="342.00" y1="432.50" x2="348.00" y2="432.50" stroke="#000" stroke-width="2" stroke-linecap="butt"/>
<text x="337.60" y="441.80" font-size="25" text-anchor="end" style="font-family:'Liberation Serif','Times New Roman',serif;font-weight:bold" >30</text>
<line x1="342.00" y1="396.00" x2="348.00" y2="396.00" stroke="#000" stroke-width="2" stroke-linecap="butt"/>
<text x="337.60" y="405.30" font-size="25" text-anchor="end" style="font-family:'Liberation Serif','Times New Roman',serif;font-weight:bold" >40</text>
<rect x="644.20" y="335.70" width="237.30" height="38.00" fill="#fff" stroke="#000" stroke-width="2"/>
<rect x="643.20" y="372.00" width="239.30" height="3.80" fill="#000" stroke="none" stroke-width="0"/>
<text x="768.85" y="363.50" font-size="25" text-anchor="middle" style="font-family:'Liberation Serif','Times New Roman',serif;font-weight:bold" >H1-hESC</text>
<path d="M654.30,535.00 L657.01,534.78 L659.73,534.55 L662.44,534.32 L665.16,534.06 L667.88,533.80 L670.59,533.50 L673.30,533.18 L676.02,532.83 L678.74,532.43 L681.45,532.00 L684.16,531.52 L686.88,530.99 L689.60,530.43 L692.31,529.82 L695.02,529.18 L697.74,528.50 L700.45,527.79 L703.17,527.05 L705.88,526.29 L708.60,525.50 L711.31,524.69 L714.03,523.87 L716.75,523.05 L719.46,522.23 L722.17,521.42 L724.89,520.62 L727.61,519.86 L730.32,519.13 L733.03,518.44 L735.75,517.80 L738.46,517.22 L741.18,516.69 L743.89,516.23 L746.61,515.82 L749.32,515.46 L752.04,515.16 L754.75,514.92 L757.47,514.73 L760.18,514.59 L762.90,514.50 L765.62,514.47 L768.33,514.48 L771.04,514.56 L773.76,514.68 L776.48,514.86 L779.19,515.10 L781.90,515.39 L784.62,515.73 L787.34,516.14 L790.05,516.60 L792.76,517.12 L795.48,517.69 L798.19,518.32 L800.91,518.99 L803.62,519.70 L806.34,520.44 L809.05,521.22 L811.77,522.03 L814.49,522.85 L817.20,523.70 L819.91,524.56 L822.63,525.43 L825.35,526.30 L828.06,527.17 L830.77,528.03 L833.49,528.87 L836.20,529.70 L838.92,530.50 L841.63,531.27 L844.35,532.00 L847.06,532.69 L849.78,533.34 L852.50,533.96 L855.21,534.55 L857.92,535.12 L860.64,535.66 L863.36,536.18 L866.07,536.70 L868.78,537.20 L871.50,537.70" fill="none" stroke="#DEAACF" stroke-width="4.4"/>
<path d="M654.30,533.76 L655.66,533.12 L657.01,532.45 L658.37,531.76 L659.73,531.04 L661.09,530.29 L662.44,529.52 L663.80,528.72 L665.16,527.89 L666.52,527.04 L667.88,526.16 L669.23,525.24 L670.59,524.30 L671.95,523.33 L673.30,522.33 L674.66,521.30 L676.02,520.24 L677.38,519.15 L678.74,518.02 L680.09,516.86 L681.45,515.67 L682.81,514.43 L684.16,513.15 L685.52,511.83 L686.88,510.45 L688.24,509.02 L689.60,507.53 L690.95,505.97 L692.31,504.33 L693.67,502.61 L695.02,500.80 L696.38,498.90 L697.74,496.88 L699.10,494.74 L700.45,492.49 L701.81,490.10 L703.17,487.57 L704.53,484.91 L705.88,482.10 L707.24,479.15 L708.60,476.06 L709.96,472.84 L711.31,469.48 L712.67,466.00 L714.03,462.42 L715.39,458.74 L716.75,454.98 L718.10,451.16 L719.46,447.30 L720.82,443.42 L722.17,439.54 L723.53,435.68 L724.89,431.86 L726.25,428.10 L727.61,424.43 L728.96,420.86 L730.32,417.40 L731.68,414.08 L733.03,410.91 L734.39,407.89 L735.75,405.04 L737.11,402.36 L738.46,399.86 L739.82,397.54 L741.18,395.40 L742.54,393.45 L743.89,391.67 L745.25,390.07 L746.61,388.64 L747.97,387.37 L749.32,386.25 L750.68,385.29 L752.04,384.46 L753.40,383.77 L754.75,383.19 L756.11,382.73 L757.47,382.38 L758.83,382.11 L760.18,381.93 L761.54,381.83 L762.90,381.80 L764.26,381.83 L765.62,381.93 L766.97,382.11 L768.33,382.38 L769.69,382.73 L771.04,383.19 L772.40,383.77 L773.76,384.46 L775.12,385.29 L776.48,386.25 L777.83,387.37 L779.19,388.64 L780.55,390.07 L781.90,391.67 L783.26,393.45 L784.62,395.40 L785.98,397.54 L787.34,399.86 L788.69,402.36 L790.05,405.04 L791.41,407.89 L792.76,410.91 L794.12,414.08 L795.48,417.40 L796.84,420.86 L798.19,424.43 L799.55,428.10 L800.91,431.86 L802.27,435.68 L803.62,439.54 L804.98,443.42 L806.34,447.30 L807.70,451.16 L809.05,454.98 L810.41,458.74 L811.77,462.42 L813.13,466.00 L814.49,469.48 L815.84,472.84 L817.20,476.06 L818.56,479.15 L819.91,482.10 L821.27,484.91 L822.63,487.57 L823.99,490.10 L825.35,492.49 L826.70,494.74 L828.06,496.88 L829.42,498.90 L830.77,500.80 L832.13,502.61 L833.49,504.33 L834.85,505.97 L836.20,507.53 L837.56,509.02 L838.92,510.45 L840.28,511.83 L841.63,513.15 L842.99,514.43 L844.35,515.67 L845.71,516.86 L847.06,518.02 L848.42,519.15 L849.78,520.24 L851.14,521.30 L852.50,522.33 L853.85,523.33 L855.21,524.30 L856.57,525.24 L857.92,526.16 L859.28,527.04 L860.64,527.89 L862.00,528.72 L863.36,529.52 L864.71,530.29 L866.07,531.04 L867.43,531.76 L868.78,532.45 L870.14,533.12 L871.50,533.76" fill="none" stroke="#7066B6" stroke-width="4.4"/>
<line x1="881.50" y1="375.90" x2="881.50" y2="545.70" stroke="#000" stroke-width="2" stroke-linecap="butt"/>
<line x1="644.20" y1="375.40" x2="644.20" y2="545.70" stroke="#000" stroke-width="2.4" stroke-linecap="butt"/>
<line x1="643.00" y1="544.50" x2="882.50" y2="544.50" stroke="#000" stroke-width="2.4" stroke-linecap="butt"/>
<line x1="654.30" y1="545.50" x2="654.30" y2="550.50" stroke="#000" stroke-width="2" stroke-linecap="butt"/>
<text x="654.30" y="574.50" font-size="25" text-anchor="middle" style="font-family:'Liberation Serif','Times New Roman',serif;font-weight:bold" >-200</text>
<line x1="708.60" y1="545.50" x2="708.60" y2="550.50" stroke="#000" stroke-width="2" stroke-linecap="butt"/>
<text x="708.60" y="574.50" font-size="25" text-anchor="middle" style="font-family:'Liberation Serif','Times New Roman',serif;font-weight:bold" >-100</text>
<line x1="762.90" y1="545.50" x2="762.90" y2="550.50" stroke="#000" stroke-width="2" stroke-linecap="butt"/>
<text x="762.90" y="574.50" font-size="25" text-anchor="middle" style="font-family:'Liberation Serif','Times New Roman',serif;font-weight:bold" >0</text>
<line x1="817.20" y1="545.50" x2="817.20" y2="550.50" stroke="#000" stroke-width="2" stroke-linecap="butt"/>
<text x="817.20" y="574.50" font-size="25" text-anchor="middle" style="font-family:'Liberation Serif','Times New Roman',serif;font-weight:bold" >100</text>
<line x1="871.50" y1="545.50" x2="871.50" y2="550.50" stroke="#000" stroke-width="2" stroke-linecap="butt"/>
<text x="871.50" y="574.50" font-size="25" text-anchor="middle" style="font-family:'Liberation Serif','Times New Roman',serif;font-weight:bold" >200</text>
<line x1="638.20" y1="541.60" x2="644.20" y2="541.60" stroke="#000" stroke-width="2" stroke-linecap="butt"/>
<text x="633.80" y="550.90" font-size="25" text-anchor="end" style="font-family:'Liberation Serif','Times New Roman',serif;font-weight:bold" >0</text>
<line x1="638.20" y1="483.40" x2="644.20" y2="483.40" stroke="#000" stroke-width="2" stroke-linecap="butt"/>
<text x="633.80" y="492.70" font-size="25" text-anchor="end" style="font-family:'Liberation Serif','Times New Roman',serif;font-weight:bold" >50</text>
<line x1="638.20" y1="425.20" x2="644.20" y2="425.20" stroke="#000" stroke-width="2" stroke-linecap="butt"/>
<text x="633.80" y="434.50" font-size="25" text-anchor="end" style="font-family:'Liberation Serif','Times New Roman',serif;font-weight:bold" >100</text>
<rect x="64.00" y="588.70" width="237.00" height="38.00" fill="#fff" stroke="#000" stroke-width="2"/>
<rect x="63.00" y="625.00" width="239.00" height="3.80" fill="#000" stroke="none" stroke-width="0"/>
<text x="188.50" y="616.50" font-size="25" text-anchor="middle" style="font-family:'Liberation Serif','Times New Roman',serif;font-weight:bold" >HCT116</text>
<path d="M73.80,787.90 L76.52,788.04 L79.23,788.19 L81.94,788.32 L84.66,788.45 L87.38,788.56 L90.09,788.65 L92.80,788.73 L95.52,788.78 L98.23,788.80 L100.95,788.80 L103.67,788.76 L106.38,788.70 L109.09,788.60 L111.81,788.48 L114.53,788.33 L117.24,788.16 L119.95,787.97 L122.67,787.76 L125.39,787.54 L128.10,787.30 L130.81,787.05 L133.53,786.79 L136.25,786.53 L138.96,786.26 L141.68,785.99 L144.39,785.72 L147.11,785.45 L149.82,785.19 L152.53,784.94 L155.25,784.70 L157.97,784.47 L160.68,784.26 L163.40,784.06 L166.11,783.88 L168.83,783.73 L171.54,783.59 L174.25,783.48 L176.97,783.39 L179.69,783.33 L182.40,783.30 L185.12,783.30 L187.83,783.33 L190.55,783.38 L193.26,783.46 L195.97,783.57 L198.69,783.69 L201.41,783.84 L204.12,784.01 L206.84,784.20 L209.55,784.40 L212.27,784.62 L214.98,784.85 L217.69,785.09 L220.41,785.34 L223.12,785.61 L225.84,785.88 L228.56,786.15 L231.27,786.43 L233.99,786.72 L236.70,787.00 L239.42,787.28 L242.13,787.57 L244.85,787.84 L247.56,788.11 L250.28,788.37 L252.99,788.61 L255.71,788.84 L258.42,789.05 L261.13,789.24 L263.85,789.40 L266.56,789.54 L269.28,789.65 L272.00,789.74 L274.71,789.81 L277.43,789.87 L280.14,789.91 L282.86,789.94 L285.57,789.97 L288.29,789.98 L291.00,790.00" fill="none" stroke="#DEAACF" stroke-width="4.4"/>
<path d="M73.80,779.07 L75.16,778.60 L76.52,778.13 L77.87,777.66 L79.23,777.19 L80.59,776.71 L81.94,776.23 L83.30,775.74 L84.66,775.25 L86.02,774.74 L87.38,774.23 L88.73,773.70 L90.09,773.16 L91.45,772.59 L92.80,772.01 L94.16,771.41 L95.52,770.78 L96.88,770.11 L98.23,769.42 L99.59,768.69 L100.95,767.91 L102.31,767.09 L103.67,766.22 L105.02,765.30 L106.38,764.32 L107.74,763.27 L109.09,762.15 L110.45,760.96 L111.81,759.69 L113.17,758.34 L114.53,756.89 L115.88,755.35 L117.24,753.72 L118.60,751.98 L119.95,750.13 L121.31,748.18 L122.67,746.11 L124.03,743.93 L125.39,741.64 L126.74,739.23 L128.10,736.70 L129.46,734.05 L130.81,731.30 L132.17,728.43 L133.53,725.46 L134.89,722.38 L136.25,719.21 L137.60,715.95 L138.96,712.60 L140.32,709.19 L141.68,705.71 L143.03,702.18 L144.39,698.62 L145.75,695.02 L147.11,691.41 L148.46,687.81 L149.82,684.21 L151.18,680.65 L152.53,677.13 L153.89,673.66 L155.25,670.27 L156.61,666.97 L157.97,663.78 L159.32,660.69 L160.68,657.74 L162.04,654.94 L163.40,652.28 L164.75,649.80 L166.11,647.48 L167.47,645.36 L168.83,643.42 L170.18,641.67 L171.54,640.13 L172.90,638.79 L174.25,637.65 L175.61,636.71 L176.97,635.97 L178.33,635.42 L179.69,635.05 L181.04,634.86 L182.40,634.80 L183.76,634.86 L185.12,635.05 L186.47,635.42 L187.83,635.97 L189.19,636.71 L190.55,637.65 L191.90,638.79 L193.26,640.13 L194.62,641.67 L195.97,643.42 L197.33,645.36 L198.69,647.48 L200.05,649.80 L201.41,652.28 L202.76,654.94 L204.12,657.74 L205.48,660.69 L206.84,663.78 L208.19,666.97 L209.55,670.27 L210.91,673.66 L212.27,677.13 L213.62,680.65 L214.98,684.21 L216.34,687.81 L217.69,691.41 L219.05,695.02 L220.41,698.62 L221.77,702.18 L223.12,705.71 L224.48,709.19 L225.84,712.60 L227.20,715.95 L228.56,719.21 L229.91,722.38 L231.27,725.46 L232.63,728.43 L233.99,731.30 L235.34,734.05 L236.70,736.70 L238.06,739.23 L239.42,741.64 L240.77,743.93 L242.13,746.11 L243.49,748.18 L244.85,750.13 L246.20,751.98 L247.56,753.72 L248.92,755.35 L250.28,756.89 L251.63,758.34 L252.99,759.69 L254.35,760.96 L255.71,762.15 L257.06,763.27 L258.42,764.32 L259.78,765.30 L261.13,766.22 L262.49,767.09 L263.85,767.91 L265.21,768.69 L266.56,769.42 L267.92,770.11 L269.28,770.78 L270.64,771.41 L272.00,772.01 L273.35,772.59 L274.71,773.16 L276.07,773.70 L277.43,774.23 L278.78,774.74 L280.14,775.25 L281.50,775.74 L282.86,776.23 L284.21,776.71 L285.57,777.19 L286.93,777.66 L288.29,778.13 L289.64,778.60 L291.00,779.07" fill="none" stroke="#7066B6" stroke-width="4.4"/>
<line x1="301.00" y1="628.90" x2="301.00" y2="798.70" stroke="#000" stroke-width="2" stroke-linecap="butt"/>
<line x1="64.00" y1="628.40" x2="64.00" y2="798.70" stroke="#000" stroke-width="2.4" stroke-linecap="butt"/>
<line x1="62.80" y1="797.50" x2="302.00" y2="797.50" stroke="#000" stroke-width="2.4" stroke-linecap="butt"/>
<line x1="73.80" y1="798.50" x2="73.80" y2="803.50" stroke="#000" stroke-width="2" stroke-linecap="butt"/>
<text x="73.80" y="827.50" font-size="25" text-anchor="middle" style="font-family:'Liberation Serif','Times New Roman',serif;font-weight:bold" >-200</text>
<line x1="128.10" y1="798.50" x2="128.10" y2="803.50" stroke="#000" stroke-width="2" stroke-linecap="butt"/>
<text x="128.10" y="827.50" font-size="25" text-anchor="middle" style="font-family:'Liberation Serif','Times New Roman',serif;font-weight:bold" >-100</text>
<line x1="182.40" y1="798.50" x2="182.40" y2="803.50" stroke="#000" stroke-width="2" stroke-linecap="butt"/>
<text x="182.40" y="827.50" font-size="25" text-anchor="middle" style="font-family:'Liberation Serif','Times New Roman',serif;font-weight:bold" >0</text>
<line x1="236.70" y1="798.50" x2="236.70" y2="803.50" stroke="#000" stroke-width="2" stroke-linecap="butt"/>
<text x="236.70" y="827.50" font-size="25" text-anchor="middle" style="font-family:'Liberation Serif','Times New Roman',serif;font-weight:bold" >100</text>
<line x1="291.00" y1="798.50" x2="291.00" y2="803.50" stroke="#000" stroke-width="2" stroke-linecap="butt"/>
<text x="291.00" y="827.50" font-size="25" text-anchor="middle" style="font-family:'Liberation Serif','Times New Roman',serif;font-weight:bold" >200</text>
<line x1="58.00" y1="795.80" x2="64.00" y2="795.80" stroke="#000" stroke-width="2" stroke-linecap="butt"/>
<text x="53.60" y="805.10" font-size="25" text-anchor="end" style="font-family:'Liberation Serif','Times New Roman',serif;font-weight:bold" >0</text>
<line x1="58.00" y1="753.80" x2="64.00" y2="753.80" stroke="#000" stroke-width="2" stroke-linecap="butt"/>
<text x="53.60" y="763.10" font-size="25" text-anchor="end" style="font-family:'Liberation Serif','Times New Roman',serif;font-weight:bold" >20</text>
<line x1="58.00" y1="712.00" x2="64.00" y2="712.00" stroke="#000" stroke-width="2" stroke-linecap="butt"/>
<text x="53.60" y="721.30" font-size="25" text-anchor="end" style="font-family:'Liberation Serif','Times New Roman',serif;font-weight:bold" >40</text>
<line x1="58.00" y1="671.00" x2="64.00" y2="671.00" stroke="#000" stroke-width="2" stroke-linecap="butt"/>
<text x="53.60" y="680.30" font-size="25" text-anchor="end" style="font-family:'Liberation Serif','Times New Roman',serif;font-weight:bold" >60</text>
<line x1="58.00" y1="629.00" x2="64.00" y2="629.00" stroke="#000" stroke-width="2" stroke-linecap="butt"/>
<text x="53.60" y="638.30" font-size="25" text-anchor="end" style="font-family:'Liberation Serif','Times New Roman',serif;font-weight:bold" >80</text>
<rect x="348.00" y="588.70" width="237.00" height="38.00" fill="#fff" stroke="#000" stroke-width="2"/>
<rect x="347.00" y="625.00" width="239.00" height="3.80" fill="#000" stroke="none" stroke-width="0"/>
<text x="472.50" y="616.50" font-size="25" text-anchor="middle" style="font-family:'Liberation Serif','Times New Roman',serif;font-weight:bold" >MCF-7</text>
<path d="M357.70,788.10 L360.42,788.19 L363.13,788.28 L365.85,788.37 L368.56,788.44 L371.27,788.50 L373.99,788.54 L376.70,788.57 L379.42,788.57 L382.13,788.55 L384.85,788.50 L387.56,788.42 L390.28,788.30 L393.00,788.16 L395.71,787.99 L398.43,787.79 L401.14,787.56 L403.86,787.31 L406.57,787.03 L409.29,786.73 L412.00,786.40 L414.72,786.05 L417.43,785.68 L420.14,785.30 L422.86,784.89 L425.57,784.47 L428.29,784.04 L431.00,783.59 L433.72,783.14 L436.44,782.67 L439.15,782.20 L441.87,781.73 L444.58,781.25 L447.30,780.79 L450.01,780.35 L452.73,779.94 L455.44,779.57 L458.16,779.24 L460.87,778.96 L463.59,778.74 L466.30,778.60 L469.01,778.53 L471.73,778.53 L474.44,778.60 L477.16,778.73 L479.88,778.91 L482.59,779.14 L485.31,779.41 L488.02,779.71 L490.74,780.05 L493.45,780.40 L496.17,780.77 L498.88,781.15 L501.60,781.55 L504.31,781.96 L507.03,782.38 L509.74,782.81 L512.46,783.25 L515.17,783.69 L517.88,784.14 L520.60,784.60 L523.32,785.06 L526.03,785.52 L528.75,785.97 L531.46,786.42 L534.17,786.85 L536.89,787.27 L539.61,787.66 L542.32,788.04 L545.03,788.39 L547.75,788.70 L550.47,788.98 L553.18,789.23 L555.89,789.45 L558.61,789.65 L561.33,789.82 L564.04,789.98 L566.75,790.12 L569.47,790.25 L572.19,790.38 L574.90,790.50" fill="none" stroke="#DEAACF" stroke-width="4.4"/>
<path d="M357.70,785.30 L359.06,785.05 L360.42,784.78 L361.77,784.49 L363.13,784.19 L364.49,783.86 L365.85,783.51 L367.20,783.13 L368.56,782.73 L369.92,782.31 L371.27,781.85 L372.63,781.37 L373.99,780.86 L375.35,780.31 L376.70,779.74 L378.06,779.13 L379.42,778.48 L380.78,777.80 L382.13,777.08 L383.49,776.31 L384.85,775.51 L386.21,774.65 L387.56,773.76 L388.92,772.81 L390.28,771.81 L391.64,770.76 L393.00,769.64 L394.35,768.47 L395.71,767.23 L397.07,765.92 L398.43,764.54 L399.78,763.08 L401.14,761.54 L402.50,759.92 L403.86,758.20 L405.21,756.38 L406.57,754.46 L407.93,752.44 L409.29,750.30 L410.64,748.05 L412.00,745.68 L413.36,743.19 L414.72,740.57 L416.07,737.82 L417.43,734.94 L418.79,731.94 L420.14,728.81 L421.50,725.55 L422.86,722.18 L424.22,718.70 L425.57,715.11 L426.93,711.42 L428.29,707.65 L429.65,703.81 L431.00,699.92 L432.36,695.98 L433.72,692.02 L435.08,688.06 L436.44,684.11 L437.79,680.19 L439.15,676.33 L440.51,672.55 L441.87,668.86 L443.22,665.29 L444.58,661.85 L445.94,658.57 L447.30,655.46 L448.65,652.53 L450.01,649.80 L451.37,647.29 L452.73,645.00 L454.08,642.94 L455.44,641.12 L456.80,639.53 L458.16,638.19 L459.51,637.08 L460.87,636.20 L462.23,635.55 L463.59,635.11 L464.94,634.87 L466.30,634.80 L467.66,634.87 L469.01,635.11 L470.37,635.55 L471.73,636.20 L473.09,637.08 L474.44,638.19 L475.80,639.53 L477.16,641.12 L478.52,642.94 L479.88,645.00 L481.23,647.29 L482.59,649.80 L483.95,652.53 L485.31,655.46 L486.66,658.57 L488.02,661.85 L489.38,665.29 L490.74,668.86 L492.09,672.55 L493.45,676.33 L494.81,680.19 L496.17,684.11 L497.52,688.06 L498.88,692.02 L500.24,695.98 L501.60,699.92 L502.95,703.81 L504.31,707.65 L505.67,711.42 L507.03,715.11 L508.38,718.70 L509.74,722.18 L511.10,725.55 L512.46,728.81 L513.81,731.94 L515.17,734.94 L516.53,737.82 L517.88,740.57 L519.24,743.19 L520.60,745.68 L521.96,748.05 L523.32,750.30 L524.67,752.44 L526.03,754.46 L527.39,756.38 L528.75,758.20 L530.10,759.92 L531.46,761.54 L532.82,763.08 L534.17,764.54 L535.53,765.92 L536.89,767.23 L538.25,768.47 L539.61,769.64 L540.96,770.76 L542.32,771.81 L543.68,772.81 L545.03,773.76 L546.39,774.65 L547.75,775.51 L549.11,776.31 L550.47,777.08 L551.82,777.80 L553.18,778.48 L554.54,779.13 L555.89,779.74 L557.25,780.31 L558.61,780.86 L559.97,781.37 L561.33,781.85 L562.68,782.31 L564.04,782.73 L565.40,783.13 L566.75,783.51 L568.11,783.86 L569.47,784.19 L570.83,784.49 L572.19,784.78 L573.54,785.05 L574.90,785.30" fill="none" stroke="#7066B6" stroke-width="4.4"/>
<line x1="585.00" y1="628.90" x2="585.00" y2="798.70" stroke="#000" stroke-width="2" stroke-linecap="butt"/>
<line x1="348.00" y1="628.40" x2="348.00" y2="798.70" stroke="#000" stroke-width="2.4" stroke-linecap="butt"/>
<line x1="346.80" y1="797.50" x2="586.00" y2="797.50" stroke="#000" stroke-width="2.4" stroke-linecap="butt"/>
<line x1="357.70" y1="798.50" x2="357.70" y2="803.50" stroke="#000" stroke-width="2" stroke-linecap="butt"/>
<text x="357.70" y="827.50" font-size="25" text-anchor="middle" style="font-family:'Liberation Serif','Times New Roman',serif;font-weight:bold" >-200</text>
<line x1="412.00" y1="798.50" x2="412.00" y2="803.50" stroke="#000" stroke-width="2" stroke-linecap="butt"/>
<text x="412.00" y="827.50" font-size="25" text-anchor="middle" style="font-family:'Liberation Serif','Times New Roman',serif;font-weight:bold" >-100</text>
<line x1="466.30" y1="798.50" x2="466.30" y2="803.50" stroke="#000" stroke-width="2" stroke-linecap="butt"/>
<text x="466.30" y="827.50" font-size="25" text-anchor="middle" style="font-family:'Liberation Serif','Times New Roman',serif;font-weight:bold" >0</text>
<line x1="520.60" y1="798.50" x2="520.60" y2="803.50" stroke="#000" stroke-width="2" stroke-linecap="butt"/>
<text x="520.60" y="827.50" font-size="25" text-anchor="middle" style="font-family:'Liberation Serif','Times New Roman',serif;font-weight:bold" >100</text>
<line x1="574.90" y1="798.50" x2="574.90" y2="803.50" stroke="#000" stroke-width="2" stroke-linecap="butt"/>
<text x="574.90" y="827.50" font-size="25" text-anchor="middle" style="font-family:'Liberation Serif','Times New Roman',serif;font-weight:bold" >200</text>
<line x1="342.00" y1="796.10" x2="348.00" y2="796.10" stroke="#000" stroke-width="2" stroke-linecap="butt"/>
<text x="337.60" y="805.40" font-size="25" text-anchor="end" style="font-family:'Liberation Serif','Times New Roman',serif;font-weight:bold" >0</text>
<line x1="342.00" y1="748.30" x2="348.00" y2="748.30" stroke="#000" stroke-width="2" stroke-linecap="butt"/>
<text x="337.60" y="757.60" font-size="25" text-anchor="end" style="font-family:'Liberation Serif','Times New Roman',serif;font-weight:bold" >10</text>
<line x1="342.00" y1="700.50" x2="348.00" y2="700.50" stroke="#000" stroke-width="2" stroke-linecap="butt"/>
<text x="337.60" y="709.80" font-size="25" text-anchor="end" style="font-family:'Liberation Serif','Times New Roman',serif;font-weight:bold" >20</text>
<line x1="342.00" y1="652.40" x2="348.00" y2="652.40" stroke="#000" stroke-width="2" stroke-linecap="butt"/>
<text x="337.60" y="661.70" font-size="25" text-anchor="end" style="font-family:'Liberation Serif','Times New Roman',serif;font-weight:bold" >30</text>
<rect x="644.20" y="588.70" width="237.30" height="38.00" fill="#fff" stroke="#000" stroke-width="2"/>
<rect x="643.20" y="625.00" width="239.30" height="3.80" fill="#000" stroke="none" stroke-width="0"/>
<text x="768.85" y="616.50" font-size="25" text-anchor="middle" style="font-family:'Liberation Serif','Times New Roman',serif;font-weight:bold" >SK-N-SH_RA</text>
<path d="M654.30,788.40 L657.01,788.52 L659.73,788.63 L662.44,788.74 L665.16,788.84 L667.88,788.92 L670.59,788.99 L673.30,789.03 L676.02,789.05 L678.74,789.04 L681.45,789.00 L684.16,788.92 L686.88,788.82 L689.60,788.68 L692.31,788.52 L695.02,788.33 L697.74,788.13 L700.45,787.91 L703.17,787.68 L705.88,787.44 L708.60,787.20 L711.31,786.96 L714.03,786.71 L716.75,786.47 L719.46,786.22 L722.17,785.98 L724.89,785.74 L727.61,785.50 L730.32,785.26 L733.03,785.03 L735.75,784.80 L738.46,784.58 L741.18,784.36 L743.89,784.15 L746.61,783.96 L749.32,783.79 L752.04,783.63 L754.75,783.51 L757.47,783.41 L760.18,783.34 L762.90,783.30 L765.62,783.30 L768.33,783.34 L771.04,783.40 L773.76,783.50 L776.48,783.62 L779.19,783.76 L781.90,783.93 L784.62,784.11 L787.34,784.30 L790.05,784.50 L792.76,784.71 L795.48,784.93 L798.19,785.15 L800.91,785.38 L803.62,785.61 L806.34,785.84 L809.05,786.08 L811.77,786.32 L814.49,786.56 L817.20,786.80 L819.91,787.04 L822.63,787.28 L825.35,787.52 L828.06,787.75 L830.77,787.98 L833.49,788.20 L836.20,788.41 L838.92,788.62 L841.63,788.81 L844.35,789.00 L847.06,789.17 L849.78,789.34 L852.50,789.49 L855.21,789.64 L857.92,789.77 L860.64,789.91 L863.36,790.03 L866.07,790.16 L868.78,790.28 L871.50,790.40" fill="none" stroke="#DEAACF" stroke-width="4.4"/>
<path d="M654.30,787.46 L655.66,787.11 L657.01,786.74 L658.37,786.35 L659.73,785.95 L661.09,785.53 L662.44,785.09 L663.80,784.63 L665.16,784.15 L666.52,783.65 L667.88,783.14 L669.23,782.60 L670.59,782.04 L671.95,781.45 L673.30,780.85 L674.66,780.22 L676.02,779.56 L677.38,778.88 L678.74,778.17 L680.09,777.43 L681.45,776.66 L682.81,775.86 L684.16,775.02 L685.52,774.15 L686.88,773.23 L688.24,772.27 L689.60,771.26 L690.95,770.19 L692.31,769.07 L693.67,767.89 L695.02,766.64 L696.38,765.31 L697.74,763.90 L699.10,762.40 L700.45,760.81 L701.81,759.12 L703.17,757.31 L704.53,755.39 L705.88,753.35 L707.24,751.18 L708.60,748.87 L709.96,746.42 L711.31,743.82 L712.67,741.08 L714.03,738.18 L715.39,735.14 L716.75,731.95 L718.10,728.61 L719.46,725.13 L720.82,721.52 L722.17,717.79 L723.53,713.94 L724.89,710.00 L726.25,705.97 L727.61,701.88 L728.96,697.74 L730.32,693.57 L731.68,689.39 L733.03,685.23 L734.39,681.12 L735.75,677.06 L737.11,673.09 L738.46,669.23 L739.82,665.50 L741.18,661.92 L742.54,658.52 L743.89,655.31 L745.25,652.30 L746.61,649.52 L747.97,646.96 L749.32,644.66 L750.68,642.60 L752.04,640.79 L753.40,639.23 L754.75,637.93 L756.11,636.87 L757.47,636.05 L758.83,635.45 L760.18,635.06 L761.54,634.86 L762.90,634.80 L764.26,634.86 L765.62,635.06 L766.97,635.45 L768.33,636.05 L769.69,636.87 L771.04,637.93 L772.40,639.23 L773.76,640.79 L775.12,642.60 L776.48,644.66 L777.83,646.96 L779.19,649.52 L780.55,652.30 L781.90,655.31 L783.26,658.52 L784.62,661.92 L785.98,665.50 L787.34,669.23 L788.69,673.09 L790.05,677.06 L791.41,681.12 L792.76,685.23 L794.12,689.39 L795.48,693.57 L796.84,697.74 L798.19,701.88 L799.55,705.97 L800.91,710.00 L802.27,713.94 L803.62,717.79 L804.98,721.52 L806.34,725.13 L807.70,728.61 L809.05,731.95 L810.41,735.14 L811.77,738.18 L813.13,741.08 L814.49,743.82 L815.84,746.42 L817.20,748.87 L818.56,751.18 L819.91,753.35 L821.27,755.39 L822.63,757.31 L823.99,759.12 L825.35,760.81 L826.70,762.40 L828.06,763.90 L829.42,765.31 L830.77,766.64 L832.13,767.89 L833.49,769.07 L834.85,770.19 L836.20,771.26 L837.56,772.27 L838.92,773.23 L840.28,774.15 L841.63,775.02 L842.99,775.86 L844.35,776.66 L845.71,777.43 L847.06,778.17 L848.42,778.88 L849.78,779.56 L851.14,780.22 L852.50,780.85 L853.85,781.45 L855.21,782.04 L856.57,782.60 L857.92,783.14 L859.28,783.65 L860.64,784.15 L862.00,784.63 L863.36,785.09 L864.71,785.53 L866.07,785.95 L867.43,786.35 L868.78,786.74 L870.14,787.11 L871.50,787.46" fill="none" stroke="#7066B6" stroke-width="4.4"/>
<line x1="881.50" y1="628.90" x2="881.50" y2="798.70" stroke="#000" stroke-width="2" stroke-linecap="butt"/>
<line x1="644.20" y1="628.40" x2="644.20" y2="798.70" stroke="#000" stroke-width="2.4" stroke-linecap="butt"/>
<line x1="643.00" y1="797.50" x2="882.50" y2="797.50" stroke="#000" stroke-width="2.4" stroke-linecap="butt"/>
<line x1="654.30" y1="798.50" x2="654.30" y2="803.50" stroke="#000" stroke-width="2" stroke-linecap="butt"/>
<text x="654.30" y="827.50" font-size="25" text-anchor="middle" style="font-family:'Liberation Serif','Times New Roman',serif;font-weight:bold" >-200</text>
<line x1="708.60" y1="798.50" x2="708.60" y2="803.50" stroke="#000" stroke-width="2" stroke-linecap="butt"/>
<text x="708.60" y="827.50" font-size="25" text-anchor="middle" style="font-family:'Liberation Serif','Times New Roman',serif;font-weight:bold" >-100</text>
<line x1="762.90" y1="798.50" x2="762.90" y2="803.50" stroke="#000" stroke-width="2" stroke-linecap="butt"/>
<text x="762.90" y="827.50" font-size="25" text-anchor="middle" style="font-family:'Liberation Serif','Times New Roman',serif;font-weight:bold" >0</text>
<line x1="817.20" y1="798.50" x2="817.20" y2="803.50" stroke="#000" stroke-width="2" stroke-linecap="butt"/>
<text x="817.20" y="827.50" font-size="25" text-anchor="middle" style="font-family:'Liberation Serif','Times New Roman',serif;font-weight:bold" >100</text>
<line x1="871.50" y1="798.50" x2="871.50" y2="803.50" stroke="#000" stroke-width="2" stroke-linecap="butt"/>
<text x="871.50" y="827.50" font-size="25" text-anchor="middle" style="font-family:'Liberation Serif','Times New Roman',serif;font-weight:bold" >200</text>
<line x1="638.20" y1="792.20" x2="644.20" y2="792.20" stroke="#000" stroke-width="2" stroke-linecap="butt"/>
<text x="633.80" y="801.50" font-size="25" text-anchor="end" style="font-family:'Liberation Serif','Times New Roman',serif;font-weight:bold" >0</text>
<line x1="638.20" y1="750.90" x2="644.20" y2="750.90" stroke="#000" stroke-width="2" stroke-linecap="butt"/>
<text x="633.80" y="760.20" font-size="25" text-anchor="end" style="font-family:'Liberation Serif','Times New Roman',serif;font-weight:bold" >30</text>
<line x1="638.20" y1="709.80" x2="644.20" y2="709.80" stroke="#000" stroke-width="2" stroke-linecap="butt"/>
<text x="633.80" y="719.10" font-size="25" text-anchor="end" style="font-family:'Liberation Serif','Times New Roman',serif;font-weight:bold" >60</text>
<line x1="638.20" y1="668.80" x2="644.20" y2="668.80" stroke="#000" stroke-width="2" stroke-linecap="butt"/>
<text x="633.80" y="678.10" font-size="25" text-anchor="end" style="font-family:'Liberation Serif','Times New Roman',serif;font-weight:bold" >90</text>
<line x1="638.20" y1="627.50" x2="644.20" y2="627.50" stroke="#000" stroke-width="2" stroke-linecap="butt"/>
<text x="633.80" y="636.80" font-size="25" text-anchor="end" style="font-family:'Liberation Serif','Times New Roman',serif;font-weight:bold" >120</text>
<rect x="973.70" y="82.70" width="226.90" height="38.00" fill="#fff" stroke="#000" stroke-width="2"/>
<rect x="972.70" y="119.00" width="228.90" height="3.80" fill="#000" stroke="none" stroke-width="0"/>
<text x="1087.15" y="110.00" font-size="25" text-anchor="middle" style="font-family:'Liberation Serif','Times New Roman',serif;font-weight:bold" >GM12878</text>
<path d="M983.50,279.30 L986.09,279.31 L988.69,279.32 L991.28,279.33 L993.87,279.33 L996.46,279.32 L999.06,279.31 L1001.65,279.28 L1004.24,279.23 L1006.83,279.18 L1009.43,279.10 L1012.02,279.01 L1014.61,278.89 L1017.20,278.77 L1019.80,278.62 L1022.39,278.47 L1024.98,278.31 L1027.57,278.14 L1030.16,277.96 L1032.76,277.78 L1035.35,277.60 L1037.94,277.42 L1040.54,277.24 L1043.13,277.06 L1045.72,276.88 L1048.31,276.71 L1050.90,276.53 L1053.50,276.37 L1056.09,276.21 L1058.68,276.05 L1061.28,275.90 L1063.87,275.76 L1066.46,275.62 L1069.05,275.50 L1071.64,275.39 L1074.24,275.29 L1076.83,275.21 L1079.42,275.15 L1082.02,275.11 L1084.61,275.09 L1087.20,275.10 L1089.79,275.13 L1092.38,275.19 L1094.98,275.26 L1097.57,275.36 L1100.16,275.47 L1102.76,275.59 L1105.35,275.73 L1107.94,275.88 L1110.53,276.04 L1113.12,276.20 L1115.72,276.37 L1118.31,276.54 L1120.90,276.71 L1123.50,276.89 L1126.09,277.07 L1128.68,277.26 L1131.27,277.46 L1133.87,277.67 L1136.46,277.88 L1139.05,278.10 L1141.64,278.33 L1144.24,278.57 L1146.83,278.80 L1149.42,279.04 L1152.01,279.27 L1154.61,279.49 L1157.20,279.69 L1159.79,279.88 L1162.38,280.05 L1164.98,280.20 L1167.57,280.32 L1170.16,280.41 L1172.75,280.49 L1175.35,280.54 L1177.94,280.57 L1180.53,280.60 L1183.12,280.61 L1185.72,280.61 L1188.31,280.61 L1190.90,280.60" fill="none" stroke="#EEB060" stroke-width="4.4"/>
<path d="M983.50,257.84 L984.80,257.21 L986.09,256.55 L987.39,255.87 L988.69,255.16 L989.98,254.43 L991.28,253.66 L992.57,252.87 L993.87,252.05 L995.17,251.20 L996.46,250.32 L997.76,249.41 L999.06,248.47 L1000.35,247.50 L1001.65,246.49 L1002.94,245.45 L1004.24,244.38 L1005.54,243.27 L1006.83,242.12 L1008.13,240.92 L1009.43,239.69 L1010.72,238.41 L1012.02,237.08 L1013.31,235.69 L1014.61,234.24 L1015.91,232.73 L1017.20,231.15 L1018.50,229.50 L1019.80,227.77 L1021.09,225.95 L1022.39,224.04 L1023.68,222.05 L1024.98,219.95 L1026.28,217.76 L1027.57,215.47 L1028.87,213.09 L1030.16,210.60 L1031.46,208.03 L1032.76,205.36 L1034.05,202.62 L1035.35,199.80 L1036.65,196.91 L1037.94,193.97 L1039.24,190.99 L1040.54,187.98 L1041.83,184.95 L1043.13,181.92 L1044.42,178.89 L1045.72,175.89 L1047.02,172.93 L1048.31,170.01 L1049.61,167.16 L1050.90,164.37 L1052.20,161.67 L1053.50,159.05 L1054.79,156.54 L1056.09,154.12 L1057.39,151.82 L1058.68,149.63 L1059.98,147.56 L1061.28,145.60 L1062.57,143.76 L1063.87,142.04 L1065.16,140.44 L1066.46,138.96 L1067.76,137.59 L1069.05,136.34 L1070.35,135.19 L1071.64,134.15 L1072.94,133.22 L1074.24,132.38 L1075.53,131.64 L1076.83,130.99 L1078.13,130.43 L1079.42,129.96 L1080.72,129.56 L1082.02,129.25 L1083.31,129.00 L1084.61,128.83 L1085.90,128.73 L1087.20,128.70 L1088.50,128.73 L1089.79,128.83 L1091.09,129.00 L1092.38,129.25 L1093.68,129.56 L1094.98,129.96 L1096.27,130.43 L1097.57,130.99 L1098.87,131.64 L1100.16,132.38 L1101.46,133.22 L1102.76,134.15 L1104.05,135.19 L1105.35,136.34 L1106.64,137.59 L1107.94,138.96 L1109.24,140.44 L1110.53,142.04 L1111.83,143.76 L1113.12,145.60 L1114.42,147.56 L1115.72,149.63 L1117.01,151.82 L1118.31,154.12 L1119.61,156.54 L1120.90,159.05 L1122.20,161.67 L1123.50,164.37 L1124.79,167.16 L1126.09,170.01 L1127.38,172.93 L1128.68,175.89 L1129.98,178.89 L1131.27,181.92 L1132.57,184.95 L1133.87,187.98 L1135.16,190.99 L1136.46,193.97 L1137.75,196.91 L1139.05,199.80 L1140.35,202.62 L1141.64,205.36 L1142.94,208.03 L1144.24,210.60 L1145.53,213.09 L1146.83,215.47 L1148.12,217.76 L1149.42,219.95 L1150.72,222.05 L1152.01,224.04 L1153.31,225.95 L1154.61,227.77 L1155.90,229.50 L1157.20,231.15 L1158.49,232.73 L1159.79,234.24 L1161.09,235.69 L1162.38,237.08 L1163.68,238.41 L1164.98,239.69 L1166.27,240.92 L1167.57,242.12 L1168.86,243.27 L1170.16,244.38 L1171.46,245.45 L1172.75,246.49 L1174.05,247.50 L1175.35,248.47 L1176.64,249.41 L1177.94,250.32 L1179.23,251.20 L1180.53,252.05 L1181.83,252.87 L1183.12,253.66 L1184.42,254.43 L1185.72,255.16 L1187.01,255.87 L1188.31,256.55 L1189.60,257.21 L1190.90,257.84" fill="none" stroke="#E97A30" stroke-width="4.4"/>
<line x1="1200.60" y1="122.90" x2="1200.60" y2="288.40" stroke="#000" stroke-width="2" stroke-linecap="butt"/>
<line x1="973.70" y1="122.40" x2="973.70" y2="288.40" stroke="#000" stroke-width="2.4" stroke-linecap="butt"/>
<line x1="972.50" y1="287.20" x2="1201.60" y2="287.20" stroke="#000" stroke-width="2.4" stroke-linecap="butt"/>
<line x1="983.50" y1="288.20" x2="983.50" y2="293.20" stroke="#000" stroke-width="2" stroke-linecap="butt"/>
<text x="983.50" y="317.70" font-size="25" text-anchor="middle" style="font-family:'Liberation Serif','Times New Roman',serif;font-weight:bold" >-200</text>
<line x1="1035.35" y1="288.20" x2="1035.35" y2="293.20" stroke="#000" stroke-width="2" stroke-linecap="butt"/>
<text x="1035.35" y="317.70" font-size="25" text-anchor="middle" style="font-family:'Liberation Serif','Times New Roman',serif;font-weight:bold" >-100</text>
<line x1="1087.20" y1="288.20" x2="1087.20" y2="293.20" stroke="#000" stroke-width="2" stroke-linecap="butt"/>
<text x="1087.20" y="317.70" font-size="25" text-anchor="middle" style="font-family:'Liberation Serif','Times New Roman',serif;font-weight:bold" >0</text>
<line x1="1139.05" y1="288.20" x2="1139.05" y2="293.20" stroke="#000" stroke-width="2" stroke-linecap="butt"/>
<text x="1139.05" y="317.70" font-size="25" text-anchor="middle" style="font-family:'Liberation Serif','Times New Roman',serif;font-weight:bold" >100</text>
<line x1="1190.90" y1="288.20" x2="1190.90" y2="293.20" stroke="#000" stroke-width="2" stroke-linecap="butt"/>
<text x="1190.90" y="317.70" font-size="25" text-anchor="middle" style="font-family:'Liberation Serif','Times New Roman',serif;font-weight:bold" >200</text>
<line x1="967.70" y1="258.60" x2="973.70" y2="258.60" stroke="#000" stroke-width="2" stroke-linecap="butt"/>
<text x="963.30" y="267.90" font-size="25" text-anchor="end" style="font-family:'Liberation Serif','Times New Roman',serif;font-weight:bold" >2</text>
<line x1="967.70" y1="209.60" x2="973.70" y2="209.60" stroke="#000" stroke-width="2" stroke-linecap="butt"/>
<text x="963.30" y="218.90" font-size="25" text-anchor="end" style="font-family:'Liberation Serif','Times New Roman',serif;font-weight:bold" >4</text>
<line x1="967.70" y1="160.40" x2="973.70" y2="160.40" stroke="#000" stroke-width="2" stroke-linecap="butt"/>
<text x="963.30" y="169.70" font-size="25" text-anchor="end" style="font-family:'Liberation Serif','Times New Roman',serif;font-weight:bold" >6</text>
<rect x="1247.60" y="82.70" width="226.40" height="38.00" fill="#fff" stroke="#000" stroke-width="2"/>
<rect x="1246.60" y="119.00" width="228.40" height="3.80" fill="#000" stroke="none" stroke-width="0"/>
<text x="1360.80" y="110.00" font-size="25" text-anchor="middle" style="font-family:'Liberation Serif','Times New Roman',serif;font-weight:bold" >HeLa-S3</text>
<path d="M1257.20,279.30 L1259.79,279.31 L1262.39,279.33 L1264.98,279.33 L1267.57,279.34 L1270.16,279.33 L1272.76,279.31 L1275.35,279.28 L1277.94,279.24 L1280.53,279.18 L1283.12,279.10 L1285.72,279.00 L1288.31,278.88 L1290.90,278.74 L1293.50,278.59 L1296.09,278.42 L1298.68,278.24 L1301.27,278.05 L1303.87,277.84 L1306.46,277.62 L1309.05,277.40 L1311.64,277.17 L1314.24,276.93 L1316.83,276.70 L1319.42,276.46 L1322.01,276.22 L1324.61,275.98 L1327.20,275.75 L1329.79,275.52 L1332.38,275.31 L1334.98,275.10 L1337.57,274.91 L1340.16,274.72 L1342.75,274.56 L1345.35,274.41 L1347.94,274.28 L1350.53,274.18 L1353.12,274.09 L1355.72,274.03 L1358.31,274.00 L1360.90,274.00 L1363.49,274.03 L1366.09,274.08 L1368.68,274.17 L1371.27,274.27 L1373.86,274.40 L1376.46,274.55 L1379.05,274.71 L1381.64,274.90 L1384.23,275.09 L1386.83,275.30 L1389.42,275.52 L1392.01,275.74 L1394.60,275.98 L1397.20,276.22 L1399.79,276.47 L1402.38,276.72 L1404.97,276.98 L1407.57,277.25 L1410.16,277.52 L1412.75,277.80 L1415.34,278.08 L1417.94,278.36 L1420.53,278.64 L1423.12,278.91 L1425.71,279.17 L1428.31,279.42 L1430.90,279.65 L1433.49,279.86 L1436.08,280.04 L1438.68,280.20 L1441.27,280.33 L1443.86,280.43 L1446.45,280.50 L1449.05,280.56 L1451.64,280.59 L1454.23,280.61 L1456.82,280.62 L1459.41,280.62 L1462.01,280.61 L1464.60,280.60" fill="none" stroke="#EEB060" stroke-width="4.4"/>
<path d="M1257.20,265.45 L1258.50,264.98 L1259.79,264.48 L1261.09,263.95 L1262.39,263.39 L1263.68,262.81 L1264.98,262.20 L1266.27,261.56 L1267.57,260.89 L1268.87,260.19 L1270.16,259.45 L1271.46,258.68 L1272.76,257.88 L1274.05,257.03 L1275.35,256.15 L1276.64,255.22 L1277.94,254.25 L1279.24,253.24 L1280.53,252.17 L1281.83,251.05 L1283.12,249.87 L1284.42,248.64 L1285.72,247.34 L1287.01,245.97 L1288.31,244.52 L1289.61,243.00 L1290.90,241.40 L1292.20,239.71 L1293.50,237.93 L1294.79,236.06 L1296.09,234.09 L1297.38,232.02 L1298.68,229.85 L1299.98,227.58 L1301.27,225.21 L1302.57,222.73 L1303.87,220.15 L1305.16,217.47 L1306.46,214.70 L1307.75,211.85 L1309.05,208.91 L1310.35,205.90 L1311.64,202.83 L1312.94,199.70 L1314.24,196.53 L1315.53,193.32 L1316.83,190.10 L1318.12,186.86 L1319.42,183.63 L1320.72,180.42 L1322.01,177.23 L1323.31,174.09 L1324.61,171.00 L1325.90,167.98 L1327.20,165.03 L1328.49,162.16 L1329.79,159.39 L1331.09,156.72 L1332.38,154.16 L1333.68,151.72 L1334.98,149.39 L1336.27,147.19 L1337.57,145.12 L1338.86,143.18 L1340.16,141.37 L1341.46,139.69 L1342.75,138.14 L1344.05,136.72 L1345.35,135.43 L1346.64,134.26 L1347.94,133.22 L1349.23,132.30 L1350.53,131.49 L1351.83,130.80 L1353.12,130.21 L1354.42,129.73 L1355.72,129.35 L1357.01,129.06 L1358.31,128.86 L1359.60,128.74 L1360.90,128.70 L1362.20,128.74 L1363.49,128.86 L1364.79,129.06 L1366.09,129.35 L1367.38,129.73 L1368.68,130.21 L1369.97,130.80 L1371.27,131.49 L1372.57,132.30 L1373.86,133.22 L1375.16,134.26 L1376.46,135.43 L1377.75,136.72 L1379.05,138.14 L1380.34,139.69 L1381.64,141.37 L1382.94,143.18 L1384.23,145.12 L1385.53,147.19 L1386.83,149.39 L1388.12,151.72 L1389.42,154.16 L1390.71,156.72 L1392.01,159.39 L1393.31,162.16 L1394.60,165.03 L1395.90,167.98 L1397.20,171.00 L1398.49,174.09 L1399.79,177.23 L1401.08,180.42 L1402.38,183.63 L1403.68,186.86 L1404.97,190.10 L1406.27,193.32 L1407.57,196.53 L1408.86,199.70 L1410.16,202.83 L1411.45,205.90 L1412.75,208.91 L1414.05,211.85 L1415.34,214.70 L1416.64,217.47 L1417.94,220.15 L1419.23,222.73 L1420.53,225.21 L1421.82,227.58 L1423.12,229.85 L1424.42,232.02 L1425.71,234.09 L1427.01,236.06 L1428.31,237.93 L1429.60,239.71 L1430.90,241.40 L1432.19,243.00 L1433.49,244.52 L1434.79,245.97 L1436.08,247.34 L1437.38,248.64 L1438.68,249.87 L1439.97,251.05 L1441.27,252.17 L1442.56,253.24 L1443.86,254.25 L1445.16,255.22 L1446.45,256.15 L1447.75,257.03 L1449.05,257.88 L1450.34,258.68 L1451.64,259.45 L1452.93,260.19 L1454.23,260.89 L1455.53,261.56 L1456.82,262.20 L1458.12,262.81 L1459.41,263.39 L1460.71,263.95 L1462.01,264.48 L1463.30,264.98 L1464.60,265.45" fill="none" stroke="#E97A30" stroke-width="4.4"/>
<line x1="1474.00" y1="122.90" x2="1474.00" y2="288.40" stroke="#000" stroke-width="2" stroke-linecap="butt"/>
<line x1="1247.60" y1="122.40" x2="1247.60" y2="288.40" stroke="#000" stroke-width="2.4" stroke-linecap="butt"/>
<line x1="1246.40" y1="287.20" x2="1475.00" y2="287.20" stroke="#000" stroke-width="2.4" stroke-linecap="butt"/>
<line x1="1257.20" y1="288.20" x2="1257.20" y2="293.20" stroke="#000" stroke-width="2" stroke-linecap="butt"/>
<text x="1257.20" y="317.70" font-size="25" text-anchor="middle" style="font-family:'Liberation Serif','Times New Roman',serif;font-weight:bold" >-200</text>
<line x1="1309.05" y1="288.20" x2="1309.05" y2="293.20" stroke="#000" stroke-width="2" stroke-linecap="butt"/>
<text x="1309.05" y="317.70" font-size="25" text-anchor="middle" style="font-family:'Liberation Serif','Times New Roman',serif;font-weight:bold" >-100</text>
<line x1="1360.90" y1="288.20" x2="1360.90" y2="293.20" stroke="#000" stroke-width="2" stroke-linecap="butt"/>
<text x="1360.90" y="317.70" font-size="25" text-anchor="middle" style="font-family:'Liberation Serif','Times New Roman',serif;font-weight:bold" >0</text>
<line x1="1412.75" y1="288.20" x2="1412.75" y2="293.20" stroke="#000" stroke-width="2" stroke-linecap="butt"/>
<text x="1412.75" y="317.70" font-size="25" text-anchor="middle" style="font-family:'Liberation Serif','Times New Roman',serif;font-weight:bold" >100</text>
<line x1="1464.60" y1="288.20" x2="1464.60" y2="293.20" stroke="#000" stroke-width="2" stroke-linecap="butt"/>
<text x="1464.60" y="317.70" font-size="25" text-anchor="middle" style="font-family:'Liberation Serif','Times New Roman',serif;font-weight:bold" >200</text>
<line x1="1241.60" y1="249.30" x2="1247.60" y2="249.30" stroke="#000" stroke-width="2" stroke-linecap="butt"/>
<text x="1237.20" y="258.60" font-size="25" text-anchor="end" style="font-family:'Liberation Serif','Times New Roman',serif;font-weight:bold" >5</text>
<line x1="1241.60" y1="207.30" x2="1247.60" y2="207.30" stroke="#000" stroke-width="2" stroke-linecap="butt"/>
<text x="1237.20" y="216.60" font-size="25" text-anchor="end" style="font-family:'Liberation Serif','Times New Roman',serif;font-weight:bold" >10</text>
<line x1="1241.60" y1="164.60" x2="1247.60" y2="164.60" stroke="#000" stroke-width="2" stroke-linecap="butt"/>
<text x="1237.20" y="173.90" font-size="25" text-anchor="end" style="font-family:'Liberation Serif','Times New Roman',serif;font-weight:bold" >15</text>
<line x1="1241.60" y1="122.40" x2="1247.60" y2="122.40" stroke="#000" stroke-width="2" stroke-linecap="butt"/>
<text x="1237.20" y="131.70" font-size="25" text-anchor="end" style="font-family:'Liberation Serif','Times New Roman',serif;font-weight:bold" >20</text>
<rect x="1508.40" y="82.70" width="226.60" height="38.00" fill="#fff" stroke="#000" stroke-width="2"/>
<rect x="1507.40" y="119.00" width="228.60" height="3.80" fill="#000" stroke="none" stroke-width="0"/>
<text x="1621.70" y="110.00" font-size="25" text-anchor="middle" style="font-family:'Liberation Serif','Times New Roman',serif;font-weight:bold" >HepG2</text>
<path d="M1518.20,278.70 L1520.79,278.80 L1523.39,278.90 L1525.98,279.00 L1528.57,279.08 L1531.16,279.16 L1533.76,279.22 L1536.35,279.27 L1538.94,279.30 L1541.53,279.31 L1544.12,279.30 L1546.72,279.26 L1549.31,279.20 L1551.90,279.12 L1554.50,279.02 L1557.09,278.90 L1559.68,278.76 L1562.27,278.61 L1564.87,278.45 L1567.46,278.28 L1570.05,278.10 L1572.64,277.92 L1575.24,277.73 L1577.83,277.54 L1580.42,277.34 L1583.01,277.15 L1585.61,276.95 L1588.20,276.76 L1590.79,276.57 L1593.38,276.38 L1595.98,276.20 L1598.57,276.02 L1601.16,275.86 L1603.75,275.70 L1606.35,275.56 L1608.94,275.43 L1611.53,275.32 L1614.12,275.23 L1616.72,275.16 L1619.31,275.12 L1621.90,275.10 L1624.49,275.11 L1627.09,275.15 L1629.68,275.21 L1632.27,275.29 L1634.86,275.40 L1637.46,275.53 L1640.05,275.67 L1642.64,275.83 L1645.23,276.01 L1647.83,276.20 L1650.42,276.40 L1653.01,276.61 L1655.60,276.83 L1658.20,277.06 L1660.79,277.29 L1663.38,277.53 L1665.97,277.77 L1668.57,278.02 L1671.16,278.26 L1673.75,278.50 L1676.34,278.74 L1678.94,278.97 L1681.53,279.20 L1684.12,279.42 L1686.71,279.62 L1689.31,279.81 L1691.90,279.99 L1694.49,280.15 L1697.08,280.29 L1699.68,280.40 L1702.27,280.49 L1704.86,280.56 L1707.45,280.61 L1710.05,280.64 L1712.64,280.66 L1715.23,280.66 L1717.82,280.65 L1720.41,280.64 L1723.01,280.62 L1725.60,280.60" fill="none" stroke="#EEB060" stroke-width="4.4"/>
<path d="M1518.20,261.19 L1519.50,260.59 L1520.79,259.96 L1522.09,259.32 L1523.39,258.64 L1524.68,257.94 L1525.98,257.21 L1527.27,256.45 L1528.57,255.66 L1529.87,254.84 L1531.16,253.99 L1532.46,253.11 L1533.76,252.20 L1535.05,251.25 L1536.35,250.27 L1537.64,249.25 L1538.94,248.20 L1540.24,247.10 L1541.53,245.96 L1542.83,244.77 L1544.12,243.53 L1545.42,242.24 L1546.72,240.90 L1548.01,239.49 L1549.31,238.02 L1550.61,236.48 L1551.90,234.87 L1553.20,233.18 L1554.50,231.41 L1555.79,229.55 L1557.09,227.61 L1558.38,225.57 L1559.68,223.43 L1560.98,221.21 L1562.27,218.88 L1563.57,216.46 L1564.87,213.95 L1566.16,211.35 L1567.46,208.66 L1568.75,205.89 L1570.05,203.04 L1571.35,200.14 L1572.64,197.17 L1573.94,194.16 L1575.24,191.11 L1576.53,188.04 L1577.83,184.96 L1579.12,181.88 L1580.42,178.81 L1581.72,175.77 L1583.01,172.76 L1584.31,169.81 L1585.61,166.91 L1586.90,164.08 L1588.20,161.34 L1589.49,158.69 L1590.79,156.13 L1592.09,153.68 L1593.38,151.34 L1594.68,149.11 L1595.98,147.00 L1597.27,145.01 L1598.57,143.15 L1599.86,141.41 L1601.16,139.79 L1602.46,138.30 L1603.75,136.93 L1605.05,135.68 L1606.35,134.54 L1607.64,133.53 L1608.94,132.62 L1610.23,131.81 L1611.53,131.11 L1612.83,130.51 L1614.12,130.01 L1615.42,129.59 L1616.72,129.26 L1618.01,129.01 L1619.31,128.83 L1620.60,128.73 L1621.90,128.70 L1623.20,128.73 L1624.49,128.83 L1625.79,129.01 L1627.09,129.26 L1628.38,129.59 L1629.68,130.01 L1630.97,130.51 L1632.27,131.11 L1633.57,131.81 L1634.86,132.62 L1636.16,133.53 L1637.46,134.54 L1638.75,135.68 L1640.05,136.93 L1641.34,138.30 L1642.64,139.79 L1643.94,141.41 L1645.23,143.15 L1646.53,145.01 L1647.83,147.00 L1649.12,149.11 L1650.42,151.34 L1651.71,153.68 L1653.01,156.13 L1654.31,158.69 L1655.60,161.34 L1656.90,164.08 L1658.20,166.91 L1659.49,169.81 L1660.79,172.76 L1662.08,175.77 L1663.38,178.81 L1664.68,181.88 L1665.97,184.96 L1667.27,188.04 L1668.57,191.11 L1669.86,194.16 L1671.16,197.17 L1672.45,200.14 L1673.75,203.04 L1675.05,205.89 L1676.34,208.66 L1677.64,211.35 L1678.94,213.95 L1680.23,216.46 L1681.53,218.88 L1682.82,221.21 L1684.12,223.43 L1685.42,225.57 L1686.71,227.61 L1688.01,229.55 L1689.31,231.41 L1690.60,233.18 L1691.90,234.87 L1693.19,236.48 L1694.49,238.02 L1695.79,239.49 L1697.08,240.90 L1698.38,242.24 L1699.68,243.53 L1700.97,244.77 L1702.27,245.96 L1703.56,247.10 L1704.86,248.20 L1706.16,249.25 L1707.45,250.27 L1708.75,251.25 L1710.05,252.20 L1711.34,253.11 L1712.64,253.99 L1713.93,254.84 L1715.23,255.66 L1716.53,256.45 L1717.82,257.21 L1719.12,257.94 L1720.41,258.64 L1721.71,259.32 L1723.01,259.96 L1724.30,260.59 L1725.60,261.19" fill="none" stroke="#E97A30" stroke-width="4.4"/>
<line x1="1735.00" y1="122.90" x2="1735.00" y2="288.40" stroke="#000" stroke-width="2" stroke-linecap="butt"/>
<line x1="1508.40" y1="122.40" x2="1508.40" y2="288.40" stroke="#000" stroke-width="2.4" stroke-linecap="butt"/>
<line x1="1507.20" y1="287.20" x2="1736.00" y2="287.20" stroke="#000" stroke-width="2.4" stroke-linecap="butt"/>
<line x1="1518.20" y1="288.20" x2="1518.20" y2="293.20" stroke="#000" stroke-width="2" stroke-linecap="butt"/>
<text x="1518.20" y="317.70" font-size="25" text-anchor="middle" style="font-family:'Liberation Serif','Times New Roman',serif;font-weight:bold" >-200</text>
<line x1="1570.05" y1="288.20" x2="1570.05" y2="293.20" stroke="#000" stroke-width="2" stroke-linecap="butt"/>
<text x="1570.05" y="317.70" font-size="25" text-anchor="middle" style="font-family:'Liberation Serif','Times New Roman',serif;font-weight:bold" >-100</text>
<line x1="1621.90" y1="288.20" x2="1621.90" y2="293.20" stroke="#000" stroke-width="2" stroke-linecap="butt"/>
<text x="1621.90" y="317.70" font-size="25" text-anchor="middle" style="font-family:'Liberation Serif','Times New Roman',serif;font-weight:bold" >0</text>
<line x1="1673.75" y1="288.20" x2="1673.75" y2="293.20" stroke="#000" stroke-width="2" stroke-linecap="butt"/>
<text x="1673.75" y="317.70" font-size="25" text-anchor="middle" style="font-family:'Liberation Serif','Times New Roman',serif;font-weight:bold" >100</text>
<line x1="1725.60" y1="288.20" x2="1725.60" y2="293.20" stroke="#000" stroke-width="2" stroke-linecap="butt"/>
<text x="1725.60" y="317.70" font-size="25" text-anchor="middle" style="font-family:'Liberation Serif','Times New Roman',serif;font-weight:bold" >200</text>
<line x1="1502.40" y1="257.40" x2="1508.40" y2="257.40" stroke="#000" stroke-width="2" stroke-linecap="butt"/>
<text x="1498.00" y="266.70" font-size="25" text-anchor="end" style="font-family:'Liberation Serif','Times New Roman',serif;font-weight:bold" >2</text>
<line x1="1502.40" y1="214.00" x2="1508.40" y2="214.00" stroke="#000" stroke-width="2" stroke-linecap="butt"/>
<text x="1498.00" y="223.30" font-size="25" text-anchor="end" style="font-family:'Liberation Serif','Times New Roman',serif;font-weight:bold" >4</text>
<line x1="1502.40" y1="170.80" x2="1508.40" y2="170.80" stroke="#000" stroke-width="2" stroke-linecap="butt"/>
<text x="1498.00" y="180.10" font-size="25" text-anchor="end" style="font-family:'Liberation Serif','Times New Roman',serif;font-weight:bold" >6</text>
<line x1="1502.40" y1="127.40" x2="1508.40" y2="127.40" stroke="#000" stroke-width="2" stroke-linecap="butt"/>
<text x="1498.00" y="136.70" font-size="25" text-anchor="end" style="font-family:'Liberation Serif','Times New Roman',serif;font-weight:bold" >8</text>
<rect x="1769.40" y="82.70" width="226.80" height="38.00" fill="#fff" stroke="#000" stroke-width="2"/>
<rect x="1768.40" y="119.00" width="228.80" height="3.80" fill="#000" stroke="none" stroke-width="0"/>
<text x="1882.80" y="110.00" font-size="25" text-anchor="middle" style="font-family:'Liberation Serif','Times New Roman',serif;font-weight:bold" >K562</text>
<path d="M1779.20,278.70 L1781.79,278.75 L1784.39,278.80 L1786.98,278.85 L1789.57,278.89 L1792.16,278.92 L1794.76,278.94 L1797.35,278.95 L1799.94,278.95 L1802.53,278.93 L1805.12,278.90 L1807.72,278.85 L1810.31,278.77 L1812.90,278.68 L1815.50,278.58 L1818.09,278.45 L1820.68,278.31 L1823.27,278.15 L1825.87,277.98 L1828.46,277.80 L1831.05,277.60 L1833.64,277.39 L1836.24,277.17 L1838.83,276.94 L1841.42,276.70 L1844.01,276.46 L1846.61,276.22 L1849.20,275.99 L1851.79,275.75 L1854.38,275.52 L1856.98,275.30 L1859.57,275.09 L1862.16,274.89 L1864.75,274.71 L1867.35,274.54 L1869.94,274.39 L1872.53,274.27 L1875.12,274.16 L1877.72,274.08 L1880.31,274.03 L1882.90,274.00 L1885.49,274.00 L1888.09,274.04 L1890.68,274.09 L1893.27,274.18 L1895.86,274.28 L1898.46,274.41 L1901.05,274.56 L1903.64,274.72 L1906.23,274.91 L1908.83,275.10 L1911.42,275.31 L1914.01,275.53 L1916.60,275.76 L1919.20,276.00 L1921.79,276.24 L1924.38,276.50 L1926.97,276.77 L1929.57,277.04 L1932.16,277.32 L1934.75,277.60 L1937.34,277.89 L1939.94,278.18 L1942.53,278.46 L1945.12,278.74 L1947.71,279.02 L1950.31,279.27 L1952.90,279.51 L1955.49,279.73 L1958.08,279.93 L1960.68,280.10 L1963.27,280.24 L1965.86,280.35 L1968.45,280.44 L1971.05,280.50 L1973.64,280.54 L1976.23,280.57 L1978.82,280.59 L1981.41,280.60 L1984.01,280.60 L1986.60,280.60" fill="none" stroke="#EEB060" stroke-width="4.4"/>
<path d="M1779.20,264.07 L1780.50,263.54 L1781.79,262.99 L1783.09,262.44 L1784.39,261.88 L1785.68,261.30 L1786.98,260.71 L1788.27,260.11 L1789.57,259.48 L1790.87,258.84 L1792.16,258.18 L1793.46,257.49 L1794.76,256.77 L1796.05,256.03 L1797.35,255.25 L1798.64,254.44 L1799.94,253.59 L1801.24,252.70 L1802.53,251.77 L1803.83,250.79 L1805.12,249.76 L1806.42,248.67 L1807.72,247.53 L1809.01,246.33 L1810.31,245.07 L1811.61,243.74 L1812.90,242.34 L1814.20,240.87 L1815.50,239.33 L1816.79,237.70 L1818.09,236.00 L1819.38,234.22 L1820.68,232.36 L1821.98,230.41 L1823.27,228.39 L1824.57,226.27 L1825.87,224.07 L1827.16,221.79 L1828.46,219.43 L1829.75,216.99 L1831.05,214.47 L1832.35,211.88 L1833.64,209.22 L1834.94,206.49 L1836.24,203.70 L1837.53,200.85 L1838.83,197.95 L1840.12,195.01 L1841.42,192.03 L1842.72,189.03 L1844.01,186.00 L1845.31,182.96 L1846.61,179.92 L1847.90,176.89 L1849.20,173.87 L1850.49,170.87 L1851.79,167.92 L1853.09,165.00 L1854.38,162.15 L1855.68,159.36 L1856.98,156.64 L1858.27,154.01 L1859.57,151.47 L1860.86,149.04 L1862.16,146.71 L1863.46,144.51 L1864.75,142.43 L1866.05,140.48 L1867.35,138.68 L1868.64,137.02 L1869.94,135.50 L1871.23,134.14 L1872.53,132.93 L1873.83,131.88 L1875.12,130.98 L1876.42,130.24 L1877.72,129.65 L1879.01,129.21 L1880.31,128.91 L1881.60,128.75 L1882.90,128.70 L1884.20,128.75 L1885.49,128.91 L1886.79,129.21 L1888.09,129.65 L1889.38,130.24 L1890.68,130.98 L1891.97,131.88 L1893.27,132.93 L1894.57,134.14 L1895.86,135.50 L1897.16,137.02 L1898.46,138.68 L1899.75,140.48 L1901.05,142.43 L1902.34,144.51 L1903.64,146.71 L1904.94,149.04 L1906.23,151.47 L1907.53,154.01 L1908.83,156.64 L1910.12,159.36 L1911.42,162.15 L1912.71,165.00 L1914.01,167.92 L1915.31,170.87 L1916.60,173.87 L1917.90,176.89 L1919.20,179.92 L1920.49,182.96 L1921.79,186.00 L1923.08,189.03 L1924.38,192.03 L1925.68,195.01 L1926.97,197.95 L1928.27,200.85 L1929.57,203.70 L1930.86,206.49 L1932.16,209.22 L1933.45,211.88 L1934.75,214.47 L1936.05,216.99 L1937.34,219.43 L1938.64,221.79 L1939.94,224.07 L1941.23,226.27 L1942.53,228.39 L1943.82,230.41 L1945.12,232.36 L1946.42,234.22 L1947.71,236.00 L1949.01,237.70 L1950.31,239.33 L1951.60,240.87 L1952.90,242.34 L1954.19,243.74 L1955.49,245.07 L1956.79,246.33 L1958.08,247.53 L1959.38,248.67 L1960.68,249.76 L1961.97,250.79 L1963.27,251.77 L1964.56,252.70 L1965.86,253.59 L1967.16,254.44 L1968.45,255.25 L1969.75,256.03 L1971.05,256.77 L1972.34,257.49 L1973.64,258.18 L1974.93,258.84 L1976.23,259.48 L1977.53,260.11 L1978.82,260.71 L1980.12,261.30 L1981.41,261.88 L1982.71,262.44 L1984.01,262.99 L1985.30,263.54 L1986.60,264.07" fill="none" stroke="#E97A30" stroke-width="4.4"/>
<line x1="1996.20" y1="122.90" x2="1996.20" y2="288.40" stroke="#000" stroke-width="2" stroke-linecap="butt"/>
<line x1="1769.40" y1="122.40" x2="1769.40" y2="288.40" stroke="#000" stroke-width="2.4" stroke-linecap="butt"/>
<line x1="1768.20" y1="287.20" x2="1997.20" y2="287.20" stroke="#000" stroke-width="2.4" stroke-linecap="butt"/>
<line x1="1779.20" y1="288.20" x2="1779.20" y2="293.20" stroke="#000" stroke-width="2" stroke-linecap="butt"/>
<text x="1779.20" y="317.70" font-size="25" text-anchor="middle" style="font-family:'Liberation Serif','Times New Roman',serif;font-weight:bold" >-200</text>
<line x1="1831.05" y1="288.20" x2="1831.05" y2="293.20" stroke="#000" stroke-width="2" stroke-linecap="butt"/>
<text x="1831.05" y="317.70" font-size="25" text-anchor="middle" style="font-family:'Liberation Serif','Times New Roman',serif;font-weight:bold" >-100</text>
<line x1="1882.90" y1="288.20" x2="1882.90" y2="293.20" stroke="#000" stroke-width="2" stroke-linecap="butt"/>
<text x="1882.90" y="317.70" font-size="25" text-anchor="middle" style="font-family:'Liberation Serif','Times New Roman',serif;font-weight:bold" >0</text>
<line x1="1934.75" y1="288.20" x2="1934.75" y2="293.20" stroke="#000" stroke-width="2" stroke-linecap="butt"/>
<text x="1934.75" y="317.70" font-size="25" text-anchor="middle" style="font-family:'Liberation Serif','Times New Roman',serif;font-weight:bold" >100</text>
<line x1="1986.60" y1="288.20" x2="1986.60" y2="293.20" stroke="#000" stroke-width="2" stroke-linecap="butt"/>
<text x="1986.60" y="317.70" font-size="25" text-anchor="middle" style="font-family:'Liberation Serif','Times New Roman',serif;font-weight:bold" >200</text>
<line x1="1763.40" y1="249.80" x2="1769.40" y2="249.80" stroke="#000" stroke-width="2" stroke-linecap="butt"/>
<text x="1759.00" y="259.10" font-size="25" text-anchor="end" style="font-family:'Liberation Serif','Times New Roman',serif;font-weight:bold" >2</text>
<line x1="1763.40" y1="207.60" x2="1769.40" y2="207.60" stroke="#000" stroke-width="2" stroke-linecap="butt"/>
<text x="1759.00" y="216.90" font-size="25" text-anchor="end" style="font-family:'Liberation Serif','Times New Roman',serif;font-weight:bold" >4</text>
<line x1="1763.40" y1="164.80" x2="1769.40" y2="164.80" stroke="#000" stroke-width="2" stroke-linecap="butt"/>
<text x="1759.00" y="174.10" font-size="25" text-anchor="end" style="font-family:'Liberation Serif','Times New Roman',serif;font-weight:bold" >6</text>
<line x1="1763.40" y1="121.60" x2="1769.40" y2="121.60" stroke="#000" stroke-width="2" stroke-linecap="butt"/>
<text x="1759.00" y="130.90" font-size="25" text-anchor="end" style="font-family:'Liberation Serif','Times New Roman',serif;font-weight:bold" >8</text>
<text x="473.10" y="870.20" font-size="26.5" text-anchor="middle" style="font-family:'Liberation Serif','Times New Roman',serif;font-weight:bold" >Distance from peak center (bp)</text>
<text x="1484.50" y="347.00" font-size="26.5" text-anchor="middle" style="font-family:'Liberation Serif','Times New Roman',serif;font-weight:bold" >Distance from peak center (bp)</text>
<text x="0.00" y="0.00" font-size="26.5" text-anchor="middle" style="font-family:'Liberation Serif','Times New Roman',serif;font-weight:bold" transform="translate(21.0,459.9) rotate(-90)">RAD21</text>
<text x="0.00" y="0.00" font-size="26.5" text-anchor="middle" style="font-family:'Liberation Serif','Times New Roman',serif;font-weight:bold" transform="translate(925.2,204.6) rotate(-90)">SMC3</text>
<text x="0.00" y="0.00" font-size="27.0" text-anchor="middle" style="font-family:'Liberation Serif','Times New Roman',serif;font-weight:bold" transform="translate(925.3,592.6) rotate(-90)">Average AUPRC</text>
<rect x="1288.25" y="389.85" width="33.0" height="33.0" rx="1" fill="none" stroke="#000" stroke-width="1.4"/>
<rect x="1289.90" y="391.50" width="29.70" height="29.70" fill="#FFCCCC" stroke="#F0736A" stroke-width="2.0"/>
<text x="1333.00" y="415.90" font-size="26.6" text-anchor="start" style="font-family:'Liberation Serif','Times New Roman',serif;font-weight:bold" >2TFs</text>
<rect x="1402.65" y="389.85" width="33.0" height="33.0" rx="1" fill="none" stroke="#000" stroke-width="1.4"/>
<rect x="1404.30" y="391.50" width="29.70" height="29.70" fill="#99CC99" stroke="#0AAF35" stroke-width="2.0"/>
<text x="1447.40" y="415.90" font-size="26.6" text-anchor="start" style="font-family:'Liberation Serif','Times New Roman',serif;font-weight:bold" >RAD21</text>
<rect x="1542.75" y="389.85" width="33.0" height="33.0" rx="1" fill="none" stroke="#000" stroke-width="1.4"/>
<rect x="1544.40" y="391.50" width="29.70" height="29.70" fill="#CCCCFF" stroke="#619CFF" stroke-width="2.0"/>
<text x="1587.00" y="415.90" font-size="26.6" text-anchor="start" style="font-family:'Liberation Serif','Times New Roman',serif;font-weight:bold" >SMC3</text>
<rect x="1044.00" y="463.50" width="47.60" height="268.90" fill="#99CC99" stroke="#0AAF35" stroke-width="1.8"/>
<rect x="1202.60" y="463.40" width="47.60" height="269.00" fill="#99CC99" stroke="#0AAF35" stroke-width="1.8"/>
<rect x="1361.20" y="469.10" width="47.60" height="263.30" fill="#99CC99" stroke="#0AAF35" stroke-width="1.8"/>
<rect x="1519.80" y="463.60" width="47.60" height="268.80" fill="#99CC99" stroke="#0AAF35" stroke-width="1.8"/>
<rect x="996.40" y="462.70" width="47.60" height="269.70" fill="#FFCCCC" stroke="#F0736A" stroke-width="1.8"/>
<rect x="1155.00" y="464.00" width="47.60" height="268.40" fill="#FFCCCC" stroke="#F0736A" stroke-width="1.8"/>
<rect x="1313.60" y="467.90" width="47.60" height="264.50" fill="#FFCCCC" stroke="#F0736A" stroke-width="1.8"/>
<rect x="1472.20" y="462.00" width="47.60" height="270.40" fill="#FFCCCC" stroke="#F0736A" stroke-width="1.8"/>
<rect x="1091.60" y="472.90" width="47.60" height="259.50" fill="#CCCCFF" stroke="#619CFF" stroke-width="1.8"/>
<rect x="1250.20" y="464.00" width="47.60" height="268.40" fill="#CCCCFF" stroke="#619CFF" stroke-width="1.8"/>
<rect x="1408.80" y="480.30" width="47.60" height="252.10" fill="#CCCCFF" stroke="#619CFF" stroke-width="1.8"/>
<rect x="1567.40" y="470.80" width="47.60" height="261.60" fill="#CCCCFF" stroke="#619CFF" stroke-width="1.8"/>
<rect x="1014.75" y="461.10" width="10.90" height="3.50" rx="1" fill="#000"/>
<rect x="1062.35" y="461.70" width="10.90" height="3.70" rx="1" fill="#000"/>
<rect x="1109.95" y="469.00" width="10.90" height="3.0" rx="0.8" fill="#000"/>
<rect x="1109.95" y="473.30" width="10.90" height="2.8" rx="0.8" fill="#000"/>
<rect x="1113.70" y="469.00" width="3.4" height="7.10" fill="#000"/>
<rect x="1173.35" y="462.00" width="10.90" height="3.60" rx="1" fill="#000"/>
<rect x="1220.95" y="461.60" width="10.90" height="3.60" rx="1" fill="#000"/>
<rect x="1268.55" y="462.00" width="10.90" height="3.60" rx="1" fill="#000"/>
<rect x="1331.95" y="466.00" width="10.90" height="4.00" rx="1" fill="#000"/>
<rect x="1379.55" y="467.10" width="10.90" height="3.80" rx="1" fill="#000"/>
<rect x="1427.15" y="477.90" width="10.90" height="4.80" rx="1" fill="#000"/>
<rect x="1490.55" y="460.00" width="10.90" height="3.70" rx="1" fill="#000"/>
<rect x="1538.15" y="461.60" width="10.90" height="4.00" rx="1" fill="#000"/>
<rect x="1585.75" y="467.50" width="10.90" height="3.0" rx="0.8" fill="#000"/>
<rect x="1585.75" y="471.00" width="10.90" height="2.8" rx="0.8" fill="#000"/>
<rect x="1589.50" y="467.50" width="3.4" height="6.30" fill="#000"/>
<line x1="973.20" y1="454.50" x2="1638.80" y2="454.50" stroke="#000" stroke-width="2.3" stroke-linecap="butt"/>
<line x1="1637.80" y1="454.50" x2="1637.80" y2="732.40" stroke="#000" stroke-width="2.0" stroke-linecap="butt"/>
<line x1="973.20" y1="453.30" x2="973.20" y2="733.80" stroke="#000" stroke-width="3.1" stroke-linecap="butt"/>
<line x1="971.70" y1="732.40" x2="1638.80" y2="732.40" stroke="#000" stroke-width="2.8" stroke-linecap="butt"/>
<line x1="968.00" y1="732.40" x2="973.20" y2="732.40" stroke="#000" stroke-width="2.6" stroke-linecap="butt"/>
<text x="963.40" y="741.60" font-size="25" text-anchor="end" style="font-family:'Liberation Serif','Times New Roman',serif;font-weight:bold" >0.0</text>
<line x1="968.00" y1="676.82" x2="973.20" y2="676.82" stroke="#000" stroke-width="2.6" stroke-linecap="butt"/>
<text x="963.40" y="686.02" font-size="25" text-anchor="end" style="font-family:'Liberation Serif','Times New Roman',serif;font-weight:bold" >0.2</text>
<line x1="968.00" y1="621.24" x2="973.20" y2="621.24" stroke="#000" stroke-width="2.6" stroke-linecap="butt"/>
<text x="963.40" y="630.44" font-size="25" text-anchor="end" style="font-family:'Liberation Serif','Times New Roman',serif;font-weight:bold" >0.4</text>
<line x1="968.00" y1="565.66" x2="973.20" y2="565.66" stroke="#000" stroke-width="2.6" stroke-linecap="butt"/>
<text x="963.40" y="574.86" font-size="25" text-anchor="end" style="font-family:'Liberation Serif','Times New Roman',serif;font-weight:bold" >0.6</text>
<line x1="968.00" y1="510.08" x2="973.20" y2="510.08" stroke="#000" stroke-width="2.6" stroke-linecap="butt"/>
<text x="963.40" y="519.28" font-size="25" text-anchor="end" style="font-family:'Liberation Serif','Times New Roman',serif;font-weight:bold" >0.8</text>
<line x1="968.00" y1="454.50" x2="973.20" y2="454.50" stroke="#000" stroke-width="2.6" stroke-linecap="butt"/>
<text x="963.40" y="463.70" font-size="25" text-anchor="end" style="font-family:'Liberation Serif','Times New Roman',serif;font-weight:bold" >1.0</text>
<line x1="1067.80" y1="733.40" x2="1067.80" y2="737.90" stroke="#000" stroke-width="2.4" stroke-linecap="butt"/>
<text x="0.00" y="0.00" font-size="25" text-anchor="end" style="font-family:'Liberation Serif','Times New Roman',serif;font-weight:bold" transform="translate(1077.30,741.60) rotate(-90)">GM12878</text>
<line x1="1226.40" y1="733.40" x2="1226.40" y2="737.90" stroke="#000" stroke-width="2.4" stroke-linecap="butt"/>
<text x="0.00" y="0.00" font-size="25" text-anchor="end" style="font-family:'Liberation Serif','Times New Roman',serif;font-weight:bold" transform="translate(1235.90,741.60) rotate(-90)">HeLa-S3</text>
<line x1="1385.00" y1="733.40" x2="1385.00" y2="737.90" stroke="#000" stroke-width="2.4" stroke-linecap="butt"/>
<text x="0.00" y="0.00" font-size="25" text-anchor="end" style="font-family:'Liberation Serif','Times New Roman',serif;font-weight:bold" transform="translate(1394.50,741.60) rotate(-90)">HepG2</text>
<line x1="1543.60" y1="733.40" x2="1543.60" y2="737.90" stroke="#000" stroke-width="2.4" stroke-linecap="butt"/>
<text x="0.00" y="0.00" font-size="25" text-anchor="end" style="font-family:'Liberation Serif','Times New Roman',serif;font-weight:bold" transform="translate(1553.10,741.60) rotate(-90)">K562</text>
<rect x="1677.05" y="467.20" width="51.30" height="265.20" fill="#99CC99" stroke="#0AAF35" stroke-width="1.8"/>
<rect x="1740.85" y="467.90" width="51.30" height="264.50" fill="#99CC99" stroke="#0AAF35" stroke-width="1.8"/>
<rect x="1805.05" y="471.90" width="51.30" height="260.50" fill="#99CC99" stroke="#0AAF35" stroke-width="1.8"/>
<rect x="1868.95" y="475.00" width="51.30" height="257.40" fill="#99CC99" stroke="#0AAF35" stroke-width="1.8"/>
<rect x="1933.05" y="473.10" width="51.30" height="259.30" fill="#99CC99" stroke="#0AAF35" stroke-width="1.8"/>
<rect x="1696.30" y="465.00" width="12.80" height="4.00" rx="1" fill="#000"/>
<rect x="1760.10" y="466.00" width="12.80" height="3.80" rx="1" fill="#000"/>
<rect x="1824.30" y="469.80" width="12.80" height="3.90" rx="1" fill="#000"/>
<rect x="1888.20" y="473.20" width="12.80" height="4.00" rx="1" fill="#000"/>
<rect x="1952.30" y="471.00" width="12.80" height="4.30" rx="1" fill="#000"/>
<line x1="1662.60" y1="454.80" x2="1997.90" y2="454.80" stroke="#000" stroke-width="2.3" stroke-linecap="butt"/>
<line x1="1664.10" y1="454.50" x2="1664.10" y2="733.80" stroke="#000" stroke-width="3.0" stroke-linecap="butt"/>
<line x1="1996.40" y1="454.50" x2="1996.40" y2="733.80" stroke="#000" stroke-width="3.0" stroke-linecap="butt"/>
<line x1="1662.60" y1="732.40" x2="1997.90" y2="732.40" stroke="#000" stroke-width="2.8" stroke-linecap="butt"/>
<line x1="1702.70" y1="733.40" x2="1702.70" y2="737.90" stroke="#000" stroke-width="2.4" stroke-linecap="butt"/>
<text x="0.00" y="0.00" font-size="25" text-anchor="end" style="font-family:'Liberation Serif','Times New Roman',serif;font-weight:bold" transform="translate(1712.20,741.60) rotate(-90)">A549</text>
<line x1="1766.50" y1="733.40" x2="1766.50" y2="737.90" stroke="#000" stroke-width="2.4" stroke-linecap="butt"/>
<text x="0.00" y="0.00" font-size="25" text-anchor="end" style="font-family:'Liberation Serif','Times New Roman',serif;font-weight:bold" transform="translate(1776.00,741.60) rotate(-90)">H1-hESC</text>
<line x1="1830.70" y1="733.40" x2="1830.70" y2="737.90" stroke="#000" stroke-width="2.4" stroke-linecap="butt"/>
<text x="0.00" y="0.00" font-size="25" text-anchor="end" style="font-family:'Liberation Serif','Times New Roman',serif;font-weight:bold" transform="translate(1840.20,741.60) rotate(-90)">HCT-116</text>
<line x1="1894.60" y1="733.40" x2="1894.60" y2="737.90" stroke="#000" stroke-width="2.4" stroke-linecap="butt"/>
<text x="0.00" y="0.00" font-size="25" text-anchor="end" style="font-family:'Liberation Serif','Times New Roman',serif;font-weight:bold" transform="translate(1904.10,741.60) rotate(-90)">MCF-7</text>
<line x1="1958.70" y1="733.40" x2="1958.70" y2="737.90" stroke="#000" stroke-width="2.4" stroke-linecap="butt"/>
<text x="0.00" y="0.00" font-size="25" text-anchor="end" style="font-family:'Liberation Serif','Times New Roman',serif;font-weight:bold" transform="translate(1968.20,741.60) rotate(-90)">SK-N-SH_RA</text>
</svg>
</body></html>
